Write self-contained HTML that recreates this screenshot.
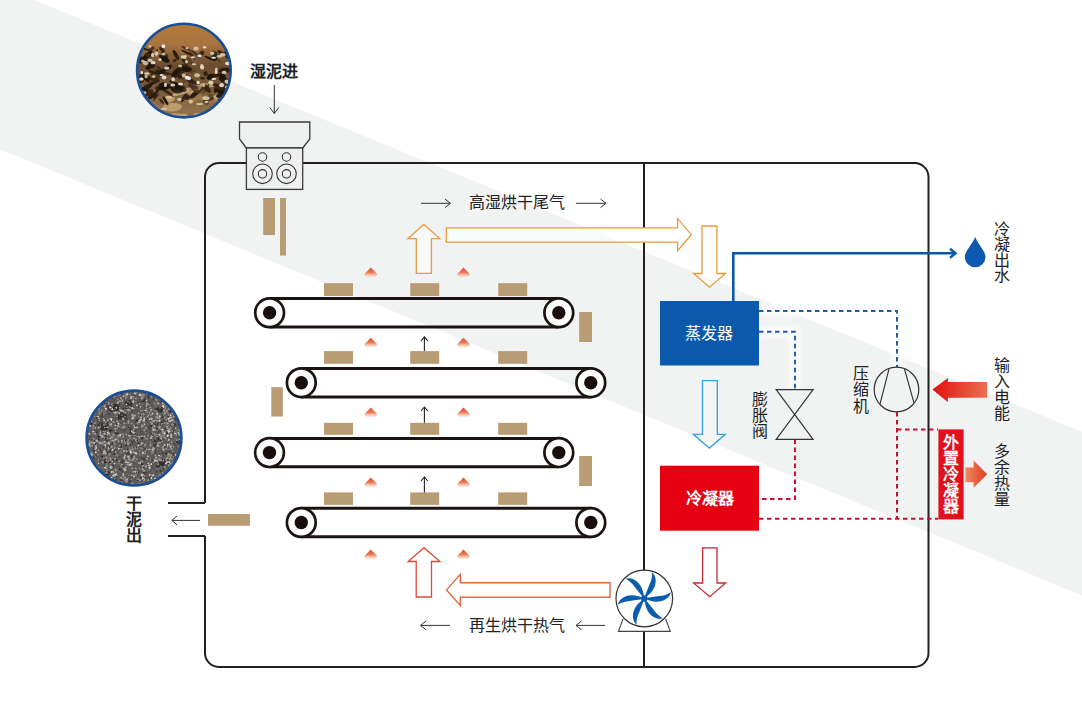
<!DOCTYPE html>
<html lang="zh-CN"><head><meta charset="utf-8">
<style>
html,body{margin:0;padding:0;background:#fff;}
body{width:1082px;height:701px;overflow:hidden;position:relative;font-family:"Liberation Sans",sans-serif;}
svg{position:absolute;left:0;top:0;}
text{font-family:"Liberation Sans",sans-serif;}
</style></head><body>
<svg width="1082" height="701" viewBox="0 0 1082 701">
<defs>
  <linearGradient id="wetg" x1="0" y1="0" x2="0" y2="1">
    <stop offset="0" stop-color="#b47a3c"/>
    <stop offset="0.22" stop-color="#a87442"/>
    <stop offset="0.45" stop-color="#6a4c30"/>
    <stop offset="0.7" stop-color="#7a5c3a"/>
    <stop offset="1" stop-color="#957550"/>
  </linearGradient>
  <filter id="blur1" x="-10%" y="-10%" width="120%" height="120%"><feGaussianBlur stdDeviation="0.7"/></filter>
  <filter id="halo" x="-20%" y="-20%" width="140%" height="140%"><feGaussianBlur stdDeviation="2"/></filter>
  <clipPath id="wetclip"><circle cx="183.9" cy="70.6" r="46.6"/></clipPath>
  <filter id="blur2" x="-10%" y="-10%" width="120%" height="120%"><feGaussianBlur stdDeviation="0.35"/></filter>
  <clipPath id="dryclip"><circle cx="134" cy="438" r="47.2"/></clipPath>
  <linearGradient id="flame" x1="0" y1="0" x2="0" y2="1">
    <stop offset="0" stop-color="#e24a2a"/>
    <stop offset="0.5" stop-color="#ec7a54"/>
    <stop offset="1" stop-color="#fbd9c6" stop-opacity="0.3"/>
  </linearGradient>
  <linearGradient id="pwr" x1="0" y1="0" x2="1" y2="0">
    <stop offset="0" stop-color="#e01010"/>
    <stop offset="1" stop-color="#ec7050"/>
  </linearGradient>
  <linearGradient id="heat" x1="0" y1="0" x2="1" y2="0">
    <stop offset="0" stop-color="#ec8a60"/>
    <stop offset="1" stop-color="#e03a20"/>
  </linearGradient>
  <g id="flm"><path d="M0 1.5 L6.5 8.2 L4.5 11.5 L-4.5 11.5 L-6.5 8.2 Z" fill="url(#flame)" filter="url(#soft)"/></g>
  <filter id="soft" x="-50%" y="-50%" width="200%" height="200%"><feGaussianBlur stdDeviation="0.55"/></filter>
  <g id="blade"><path d="M0 0 C 5.5 -4, 11.8 -10, 11.4 -18.5 C 11.1 -22, 9.6 -24.5, 7.8 -26.2 C 8 -22, 7.2 -18, 5.2 -14 C 3.6 -10, 1.8 -6, 0 0 Z" fill="#0b5cb0"/></g>
</defs>

<!-- background band -->
<polygon points="0,0 34,0 1082,431.8 1082,595.5 0,149.3" fill="#f1f2f2"/>
<g fill="none" stroke="#fff" stroke-width="11" opacity="0.75" filter="url(#halo)">
<path d="M759 311 L897 311 L897 367"/>
<path d="M759 331.8 L795 331.8 L795 389.7"/>
</g>


<!-- wet mud photo -->
<g clip-path="url(#wetclip)"><g filter="url(#blur1)">
<circle cx="183.9" cy="70.6" r="46.6" fill="url(#wetg)"/>
<ellipse cx="152.7" cy="107.5" rx="9.4" ry="3.2" fill="#c8a878" opacity="0.8" transform="rotate(20 152.7 107.5)"/>
<ellipse cx="181.5" cy="117.6" rx="6.3" ry="3.3" fill="#b8946a" opacity="0.8" transform="rotate(-19 181.5 117.6)"/>
<ellipse cx="224.2" cy="97.8" rx="6.0" ry="3.9" fill="#c8a878" opacity="0.8" transform="rotate(8 224.2 97.8)"/>
<ellipse cx="178.0" cy="118.8" rx="10.4" ry="3.0" fill="#d0b48a" opacity="0.8" transform="rotate(-19 178.0 118.8)"/>
<ellipse cx="168.0" cy="100.4" rx="5.8" ry="4.4" fill="#a07a50" opacity="0.8" transform="rotate(-19 168.0 100.4)"/>
<ellipse cx="206.4" cy="85.3" rx="10.7" ry="2.0" fill="#c8a878" opacity="0.8" transform="rotate(2 206.4 85.3)"/>
<ellipse cx="169.3" cy="99.9" rx="6.3" ry="2.1" fill="#c8a878" opacity="0.8" transform="rotate(-17 169.3 99.9)"/>
<ellipse cx="155.7" cy="106.9" rx="10.6" ry="3.6" fill="#9a7248" opacity="0.8" transform="rotate(20 155.7 106.9)"/>
<ellipse cx="143.9" cy="102.7" rx="8.9" ry="3.0" fill="#a07a50" opacity="0.8" transform="rotate(17 143.9 102.7)"/>
<ellipse cx="220.0" cy="97.2" rx="7.6" ry="3.1" fill="#d0b48a" opacity="0.8" transform="rotate(-7 220.0 97.2)"/>
<ellipse cx="182.5" cy="91.8" rx="10.8" ry="2.4" fill="#d0b48a" opacity="0.8" transform="rotate(-20 182.5 91.8)"/>
<ellipse cx="143.8" cy="104.2" rx="8.7" ry="3.4" fill="#a07a50" opacity="0.8" transform="rotate(2 143.8 104.2)"/>
<ellipse cx="195.3" cy="88.7" rx="6.2" ry="2.9" fill="#a07a50" opacity="0.8" transform="rotate(-6 195.3 88.7)"/>
<ellipse cx="193.0" cy="93.3" rx="5.7" ry="2.2" fill="#c8a878" opacity="0.8" transform="rotate(11 193.0 93.3)"/>
<ellipse cx="172.2" cy="107.3" rx="9.7" ry="4.2" fill="#c8a878" opacity="0.8" transform="rotate(-4 172.2 107.3)"/>
<ellipse cx="229.5" cy="117.6" rx="9.1" ry="4.2" fill="#d0b48a" opacity="0.8" transform="rotate(0 229.5 117.6)"/>
<ellipse cx="199.5" cy="116.6" rx="6.7" ry="3.4" fill="#d0b48a" opacity="0.8" transform="rotate(12 199.5 116.6)"/>
<ellipse cx="209.4" cy="99.9" rx="10.9" ry="2.1" fill="#a07a50" opacity="0.8" transform="rotate(6 209.4 99.9)"/>
<ellipse cx="140.5" cy="91.2" rx="7.8" ry="4.2" fill="#c8a878" opacity="0.8" transform="rotate(19 140.5 91.2)"/>
<ellipse cx="206.8" cy="99.7" rx="6.8" ry="4.4" fill="#9a7248" opacity="0.8" transform="rotate(16 206.8 99.7)"/>
<ellipse cx="181.9" cy="117.3" rx="11.3" ry="2.9" fill="#c8a878" opacity="0.8" transform="rotate(15 181.9 117.3)"/>
<ellipse cx="193.3" cy="97.8" rx="9.1" ry="4.1" fill="#a07a50" opacity="0.8" transform="rotate(-14 193.3 97.8)"/>
<ellipse cx="192.1" cy="55.8" rx="4.9" ry="1.4" fill="#3a2818" transform="rotate(54 192.1 55.8)"/>
<ellipse cx="139.5" cy="81.2" rx="4.6" ry="2.1" fill="#32220f" transform="rotate(-9 139.5 81.2)"/>
<ellipse cx="201.0" cy="90.1" rx="5.2" ry="1.0" fill="#3a2818" transform="rotate(-49 201.0 90.1)"/>
<ellipse cx="146.1" cy="49.4" rx="3.8" ry="1.0" fill="#2a1c10" transform="rotate(19 146.1 49.4)"/>
<ellipse cx="149.1" cy="78.2" rx="3.3" ry="1.5" fill="#3a2818" transform="rotate(15 149.1 78.2)"/>
<ellipse cx="154.2" cy="96.0" rx="2.8" ry="1.9" fill="#2a1c10" transform="rotate(12 154.2 96.0)"/>
<ellipse cx="184.4" cy="89.8" rx="2.2" ry="2.2" fill="#5a4028" transform="rotate(-4 184.4 89.8)"/>
<ellipse cx="143.2" cy="90.8" rx="2.7" ry="1.9" fill="#4a3420" transform="rotate(56 143.2 90.8)"/>
<ellipse cx="193.7" cy="89.8" rx="3.0" ry="1.0" fill="#4a3420" transform="rotate(38 193.7 89.8)"/>
<ellipse cx="212.1" cy="75.4" rx="4.3" ry="1.6" fill="#2a1c10" transform="rotate(1 212.1 75.4)"/>
<ellipse cx="205.8" cy="102.2" rx="3.2" ry="1.8" fill="#32220f" transform="rotate(31 205.8 102.2)"/>
<ellipse cx="155.0" cy="82.5" rx="3.3" ry="1.1" fill="#2a1c10" transform="rotate(-22 155.0 82.5)"/>
<ellipse cx="229.9" cy="54.0" rx="2.3" ry="0.9" fill="#5a4028" transform="rotate(1 229.9 54.0)"/>
<ellipse cx="225.6" cy="86.1" rx="4.8" ry="1.5" fill="#32220f" transform="rotate(-13 225.6 86.1)"/>
<ellipse cx="174.7" cy="60.6" rx="2.2" ry="1.5" fill="#3a2818" transform="rotate(-27 174.7 60.6)"/>
<ellipse cx="192.2" cy="70.7" rx="3.7" ry="2.0" fill="#5a4028" transform="rotate(-14 192.2 70.7)"/>
<ellipse cx="182.7" cy="83.4" rx="5.9" ry="0.9" fill="#5a4028" transform="rotate(-39 182.7 83.4)"/>
<ellipse cx="172.1" cy="81.9" rx="2.9" ry="1.5" fill="#32220f" transform="rotate(20 172.1 81.9)"/>
<ellipse cx="217.4" cy="87.1" rx="4.7" ry="1.2" fill="#5a4028" transform="rotate(-14 217.4 87.1)"/>
<ellipse cx="194.6" cy="94.2" rx="5.9" ry="2.3" fill="#2a1c10" transform="rotate(-41 194.6 94.2)"/>
<ellipse cx="156.1" cy="97.0" rx="4.9" ry="0.9" fill="#3a2818" transform="rotate(-50 156.1 97.0)"/>
<ellipse cx="165.5" cy="100.8" rx="5.0" ry="1.5" fill="#2a1c10" transform="rotate(59 165.5 100.8)"/>
<ellipse cx="152.8" cy="72.3" rx="4.7" ry="1.4" fill="#32220f" transform="rotate(22 152.8 72.3)"/>
<ellipse cx="161.6" cy="101.3" rx="3.3" ry="1.2" fill="#3a2818" transform="rotate(48 161.6 101.3)"/>
<ellipse cx="184.6" cy="61.3" rx="4.8" ry="1.9" fill="#3a2818" transform="rotate(53 184.6 61.3)"/>
<ellipse cx="180.8" cy="72.5" rx="4.5" ry="1.2" fill="#3a2818" transform="rotate(20 180.8 72.5)"/>
<ellipse cx="195.2" cy="53.5" rx="5.9" ry="1.1" fill="#4a3420" transform="rotate(37 195.2 53.5)"/>
<ellipse cx="224.4" cy="87.5" rx="2.1" ry="1.6" fill="#2a1c10" transform="rotate(-12 224.4 87.5)"/>
<ellipse cx="178.4" cy="73.2" rx="6.0" ry="2.2" fill="#3a2818" transform="rotate(-49 178.4 73.2)"/>
<ellipse cx="166.1" cy="73.4" rx="5.6" ry="1.4" fill="#3a2818" transform="rotate(8 166.1 73.4)"/>
<ellipse cx="222.3" cy="72.2" rx="5.4" ry="1.3" fill="#5a4028" transform="rotate(-12 222.3 72.2)"/>
<ellipse cx="188.7" cy="60.6" rx="5.2" ry="2.1" fill="#5a4028" transform="rotate(46 188.7 60.6)"/>
<ellipse cx="138.9" cy="80.6" rx="2.3" ry="2.1" fill="#3a2818" transform="rotate(-42 138.9 80.6)"/>
<ellipse cx="183.7" cy="77.5" rx="4.1" ry="1.5" fill="#4a3420" transform="rotate(-42 183.7 77.5)"/>
<ellipse cx="151.6" cy="64.1" rx="4.6" ry="0.8" fill="#2a1c10" transform="rotate(20 151.6 64.1)"/>
<ellipse cx="154.7" cy="53.5" rx="5.3" ry="1.3" fill="#4a3420" transform="rotate(-53 154.7 53.5)"/>
<ellipse cx="140.8" cy="75.7" rx="4.7" ry="1.8" fill="#3a2818" transform="rotate(-56 140.8 75.7)"/>
<ellipse cx="159.0" cy="68.1" rx="3.0" ry="1.1" fill="#3a2818" transform="rotate(27 159.0 68.1)"/>
<ellipse cx="186.2" cy="52.4" rx="5.3" ry="1.1" fill="#2a1c10" transform="rotate(27 186.2 52.4)"/>
<ellipse cx="193.8" cy="83.4" rx="4.6" ry="0.8" fill="#4a3420" transform="rotate(-1 193.8 83.4)"/>
<ellipse cx="152.4" cy="95.7" rx="5.2" ry="2.2" fill="#2a1c10" transform="rotate(-34 152.4 95.7)"/>
<ellipse cx="209.8" cy="98.6" rx="4.1" ry="2.2" fill="#4a3420" transform="rotate(-13 209.8 98.6)"/>
<ellipse cx="225.1" cy="100.5" rx="5.2" ry="0.8" fill="#4a3420" transform="rotate(-39 225.1 100.5)"/>
<ellipse cx="162.0" cy="49.4" rx="3.5" ry="1.9" fill="#3a2818" transform="rotate(52 162.0 49.4)"/>
<ellipse cx="187.3" cy="97.4" rx="2.8" ry="2.3" fill="#32220f" transform="rotate(-26 187.3 97.4)"/>
<ellipse cx="179.2" cy="91.0" rx="5.8" ry="2.2" fill="#3a2818" transform="rotate(-11 179.2 91.0)"/>
<ellipse cx="153.9" cy="78.2" rx="5.3" ry="1.3" fill="#3a2818" transform="rotate(59 153.9 78.2)"/>
<ellipse cx="222.3" cy="101.5" rx="5.0" ry="2.3" fill="#3a2818" transform="rotate(29 222.3 101.5)"/>
<ellipse cx="157.1" cy="77.8" rx="3.5" ry="2.3" fill="#4a3420" transform="rotate(-45 157.1 77.8)"/>
<ellipse cx="159.7" cy="71.8" rx="4.6" ry="2.0" fill="#3a2818" transform="rotate(18 159.7 71.8)"/>
<ellipse cx="160.9" cy="72.1" rx="3.5" ry="1.5" fill="#4a3420" transform="rotate(-55 160.9 72.1)"/>
<ellipse cx="217.3" cy="59.5" rx="5.2" ry="1.3" fill="#5a4028" transform="rotate(36 217.3 59.5)"/>
<ellipse cx="205.9" cy="88.9" rx="6.0" ry="1.4" fill="#5a4028" transform="rotate(-56 205.9 88.9)"/>
<ellipse cx="209.8" cy="96.5" rx="3.2" ry="2.0" fill="#5a4028" transform="rotate(-36 209.8 96.5)"/>
<ellipse cx="158.5" cy="89.1" rx="5.2" ry="1.5" fill="#2a1c10" transform="rotate(-57 158.5 89.1)"/>
<ellipse cx="222.7" cy="55.4" rx="3.3" ry="1.3" fill="#32220f" transform="rotate(15 222.7 55.4)"/>
<ellipse cx="193.1" cy="86.8" rx="5.5" ry="1.9" fill="#4a3420" transform="rotate(19 193.1 86.8)"/>
<ellipse cx="205.7" cy="73.7" rx="2.5" ry="2.1" fill="#32220f" transform="rotate(42 205.7 73.7)"/>
<ellipse cx="220.3" cy="52.3" rx="3.2" ry="1.8" fill="#3a2818" transform="rotate(30 220.3 52.3)"/>
<ellipse cx="224.5" cy="53.8" rx="4.5" ry="1.8" fill="#32220f" transform="rotate(-35 224.5 53.8)"/>
<ellipse cx="183.7" cy="87.9" rx="2.9" ry="1.8" fill="#4a3420" transform="rotate(51 183.7 87.9)"/>
<ellipse cx="186.0" cy="48.5" rx="5.4" ry="1.2" fill="#4a3420" transform="rotate(24 186.0 48.5)"/>
<ellipse cx="175.9" cy="54.9" rx="5.5" ry="1.8" fill="#2a1c10" transform="rotate(60 175.9 54.9)"/>
<ellipse cx="159.0" cy="87.4" rx="4.0" ry="1.6" fill="#32220f" transform="rotate(-15 159.0 87.4)"/>
<ellipse cx="196.6" cy="83.6" rx="3.5" ry="1.3" fill="#5a4028" transform="rotate(16 196.6 83.6)"/>
<ellipse cx="179.9" cy="76.8" rx="2.9" ry="2.0" fill="#2a1c10" transform="rotate(42 179.9 76.8)"/>
<ellipse cx="221.0" cy="95.2" rx="5.1" ry="2.2" fill="#2a1c10" transform="rotate(-19 221.0 95.2)"/>
<ellipse cx="151.7" cy="48.8" rx="3.1" ry="1.8" fill="#4a3420" transform="rotate(-34 151.7 48.8)"/>
<ellipse cx="141.8" cy="58.5" rx="2.6" ry="1.7" fill="#3a2818" transform="rotate(-33 141.8 58.5)"/>
<ellipse cx="147.7" cy="77.9" rx="2.5" ry="1.4" fill="#2a1c10" transform="rotate(-36 147.7 77.9)"/>
<ellipse cx="202.5" cy="78.2" rx="2.3" ry="1.2" fill="#32220f" transform="rotate(8 202.5 78.2)"/>
<ellipse cx="160.1" cy="72.2" rx="5.2" ry="2.2" fill="#2a1c10" transform="rotate(-12 160.1 72.2)"/>
<ellipse cx="226.7" cy="93.2" rx="4.7" ry="2.1" fill="#5a4028" transform="rotate(-56 226.7 93.2)"/>
<ellipse cx="183.8" cy="97.9" rx="5.1" ry="1.7" fill="#3a2818" transform="rotate(-55 183.8 97.9)"/>
<ellipse cx="197.0" cy="91.6" rx="3.0" ry="1.5" fill="#4a3420" transform="rotate(4 197.0 91.6)"/>
<ellipse cx="152.6" cy="67.1" rx="4.7" ry="1.8" fill="#5a4028" transform="rotate(50 152.6 67.1)"/>
<ellipse cx="164.6" cy="54.5" rx="4.3" ry="1.5" fill="#3a2818" transform="rotate(30 164.6 54.5)"/>
<ellipse cx="151.2" cy="65.3" rx="2.4" ry="1.8" fill="#5a4028" transform="rotate(49 151.2 65.3)"/>
<ellipse cx="141.9" cy="89.8" rx="5.3" ry="1.6" fill="#2a1c10" transform="rotate(15 141.9 89.8)"/>
<ellipse cx="181.4" cy="79.2" rx="3.5" ry="1.1" fill="#5a4028" transform="rotate(15 181.4 79.2)"/>
<ellipse cx="190.5" cy="79.3" rx="6.2" ry="1.7" fill="#2a1c10" transform="rotate(48 190.5 79.3)"/>
<ellipse cx="221.7" cy="91.7" rx="3.9" ry="2.4" fill="#24180c" transform="rotate(-5 221.7 91.7)"/>
<ellipse cx="225.2" cy="79.4" rx="3.9" ry="1.8" fill="#24180c" transform="rotate(40 225.2 79.4)"/>
<ellipse cx="206.6" cy="88.4" rx="5.5" ry="2.7" fill="#3a2818" transform="rotate(43 206.6 88.4)"/>
<ellipse cx="189.1" cy="81.3" rx="3.0" ry="1.3" fill="#3a2818" transform="rotate(50 189.1 81.3)"/>
<ellipse cx="229.6" cy="56.6" rx="4.1" ry="2.4" fill="#2a1c10" transform="rotate(1 229.6 56.6)"/>
<ellipse cx="167.1" cy="68.2" rx="5.5" ry="2.2" fill="#24180c" transform="rotate(-31 167.1 68.2)"/>
<ellipse cx="147.6" cy="55.3" rx="6.4" ry="2.5" fill="#1e140a" transform="rotate(-44 147.6 55.3)"/>
<ellipse cx="146.0" cy="86.3" rx="2.5" ry="1.9" fill="#3a2818" transform="rotate(-30 146.0 86.3)"/>
<ellipse cx="155.3" cy="80.1" rx="4.6" ry="2.1" fill="#3a2818" transform="rotate(9 155.3 80.1)"/>
<ellipse cx="179.6" cy="88.4" rx="4.7" ry="1.2" fill="#24180c" transform="rotate(-12 179.6 88.4)"/>
<ellipse cx="210.0" cy="58.4" rx="6.4" ry="1.2" fill="#24180c" transform="rotate(22 210.0 58.4)"/>
<ellipse cx="218.6" cy="87.7" rx="6.4" ry="2.8" fill="#24180c" transform="rotate(-47 218.6 87.7)"/>
<ellipse cx="145.5" cy="78.1" rx="5.8" ry="2.0" fill="#24180c" transform="rotate(45 145.5 78.1)"/>
<ellipse cx="175.2" cy="72.9" rx="5.3" ry="2.6" fill="#24180c" transform="rotate(-48 175.2 72.9)"/>
<ellipse cx="174.3" cy="86.1" rx="4.0" ry="1.4" fill="#2a1c10" transform="rotate(41 174.3 86.1)"/>
<ellipse cx="167.1" cy="92.1" rx="6.6" ry="1.5" fill="#3a2818" transform="rotate(33 167.1 92.1)"/>
<ellipse cx="177.7" cy="86.4" rx="6.7" ry="2.8" fill="#1e140a" transform="rotate(35 177.7 86.4)"/>
<ellipse cx="195.6" cy="82.8" rx="3.5" ry="1.4" fill="#3a2818" transform="rotate(35 195.6 82.8)"/>
<ellipse cx="144.6" cy="58.7" rx="6.4" ry="1.6" fill="#1e140a" transform="rotate(-44 144.6 58.7)"/>
<ellipse cx="200.7" cy="54.4" rx="4.5" ry="2.2" fill="#3a2818" transform="rotate(-49 200.7 54.4)"/>
<ellipse cx="224.8" cy="70.5" rx="6.6" ry="2.7" fill="#2a1c10" transform="rotate(-4 224.8 70.5)"/>
<ellipse cx="210.0" cy="77.5" rx="3.4" ry="2.2" fill="#1e140a" transform="rotate(-17 210.0 77.5)"/>
<ellipse cx="145.6" cy="89.7" rx="4.7" ry="1.8" fill="#1e140a" transform="rotate(25 145.6 89.7)"/>
<ellipse cx="215.2" cy="54.7" rx="2.5" ry="2.8" fill="#3a2818" transform="rotate(-17 215.2 54.7)"/>
<ellipse cx="149.2" cy="67.3" rx="4.0" ry="2.1" fill="#24180c" transform="rotate(-23 149.2 67.3)"/>
<ellipse cx="218.2" cy="75.1" rx="6.3" ry="1.7" fill="#2a1c10" transform="rotate(-9 218.2 75.1)"/>
<ellipse cx="149.4" cy="86.0" rx="5.0" ry="2.0" fill="#2a1c10" transform="rotate(-49 149.4 86.0)"/>
<ellipse cx="139.5" cy="60.0" rx="3.3" ry="2.5" fill="#2a1c10" transform="rotate(-19 139.5 60.0)"/>
<ellipse cx="215.0" cy="54.3" rx="4.5" ry="1.9" fill="#3a2818" transform="rotate(46 215.0 54.3)"/>
<ellipse cx="162.4" cy="84.5" rx="3.8" ry="1.9" fill="#1e140a" transform="rotate(-15 162.4 84.5)"/>
<ellipse cx="148.2" cy="92.8" rx="5.4" ry="2.9" fill="#3a2818" transform="rotate(-26 148.2 92.8)"/>
<ellipse cx="172.7" cy="88.1" rx="5.5" ry="1.4" fill="#2a1c10" transform="rotate(29 172.7 88.1)"/>
<ellipse cx="173.3" cy="89.1" rx="2.8" ry="2.3" fill="#2a1c10" transform="rotate(28 173.3 89.1)"/>
<ellipse cx="218.7" cy="86.7" rx="6.4" ry="2.5" fill="#3a2818" transform="rotate(23 218.7 86.7)"/>
<ellipse cx="221.9" cy="79.1" rx="3.6" ry="2.4" fill="#24180c" transform="rotate(30 221.9 79.1)"/>
<ellipse cx="178.7" cy="70.0" rx="2.9" ry="2.6" fill="#2a1c10" transform="rotate(-22 178.7 70.0)"/>
<ellipse cx="214.2" cy="58.1" rx="3.3" ry="1.8" fill="#2a1c10" transform="rotate(33 214.2 58.1)"/>
<ellipse cx="149.6" cy="63.5" rx="6.1" ry="2.9" fill="#24180c" transform="rotate(40 149.6 63.5)"/>
<ellipse cx="222.8" cy="76.8" rx="2.9" ry="2.8" fill="#1e140a" transform="rotate(40 222.8 76.8)"/>
<ellipse cx="186.8" cy="69.3" rx="5.1" ry="2.6" fill="#24180c" transform="rotate(-1 186.8 69.3)"/>
<ellipse cx="184.5" cy="66.4" rx="4.9" ry="2.2" fill="#3a2818" transform="rotate(10 184.5 66.4)"/>
<ellipse cx="223.0" cy="81.1" rx="4.4" ry="1.2" fill="#2a1c10" transform="rotate(36 223.0 81.1)"/>
<ellipse cx="165.6" cy="87.1" rx="6.7" ry="2.8" fill="#2a1c10" transform="rotate(-19 165.6 87.1)"/>
<ellipse cx="141.0" cy="92.5" rx="3.6" ry="2.0" fill="#3a2818" transform="rotate(-15 141.0 92.5)"/>
<ellipse cx="148.4" cy="55.2" rx="3.9" ry="2.2" fill="#3a2818" transform="rotate(13 148.4 55.2)"/>
<ellipse cx="229.2" cy="83.9" rx="6.9" ry="2.3" fill="#3a2818" transform="rotate(-15 229.2 83.9)"/>
<ellipse cx="164.3" cy="58.6" rx="6.0" ry="2.8" fill="#1e140a" transform="rotate(35 164.3 58.6)"/>
<ellipse cx="164.1" cy="87.0" rx="4.8" ry="1.8" fill="#1e140a" transform="rotate(-7 164.1 87.0)"/>
<ellipse cx="184.9" cy="68.2" rx="3.6" ry="1.6" fill="#1e140a" transform="rotate(10 184.9 68.2)"/>
<ellipse cx="194.0" cy="64.3" rx="2.4" ry="1.0" fill="#e8dcc4" opacity="0.85"/>
<ellipse cx="152.5" cy="55.1" rx="1.5" ry="2.2" fill="#f6f0e2" opacity="0.85"/>
<ellipse cx="199.5" cy="55.7" rx="2.2" ry="1.5" fill="#ffffff" opacity="0.85"/>
<ellipse cx="186.6" cy="61.8" rx="1.6" ry="1.7" fill="#e8dcc4" opacity="0.85"/>
<ellipse cx="201.8" cy="66.2" rx="1.7" ry="2.1" fill="#e8dcc4" opacity="0.85"/>
<ellipse cx="164.1" cy="77.5" rx="2.3" ry="1.9" fill="#f6f0e2" opacity="0.85"/>
<ellipse cx="219.2" cy="56.3" rx="2.8" ry="1.4" fill="#dccaa6" opacity="0.85"/>
<ellipse cx="213.8" cy="78.9" rx="2.4" ry="1.0" fill="#ffffff" opacity="0.85"/>
<ellipse cx="222.7" cy="54.9" rx="2.8" ry="1.9" fill="#e8dcc4" opacity="0.85"/>
<ellipse cx="210.9" cy="82.6" rx="2.6" ry="2.0" fill="#e8dcc4" opacity="0.85"/>
<ellipse cx="183.8" cy="75.5" rx="2.0" ry="2.2" fill="#dccaa6" opacity="0.85"/>
<ellipse cx="172.8" cy="85.0" rx="2.4" ry="1.6" fill="#f6f0e2" opacity="0.85"/>
<ellipse cx="150.1" cy="46.2" rx="1.3" ry="1.5" fill="#dccaa6" opacity="0.85"/>
<ellipse cx="141.8" cy="72.7" rx="1.4" ry="1.6" fill="#ffffff" opacity="0.85"/>
<ellipse cx="198.1" cy="82.6" rx="1.7" ry="1.9" fill="#f6f0e2" opacity="0.85"/>
<ellipse cx="163.3" cy="46.2" rx="1.9" ry="2.0" fill="#ffffff" opacity="0.85"/>
<ellipse cx="180.5" cy="84.1" rx="2.6" ry="1.3" fill="#ffffff" opacity="0.85"/>
<ellipse cx="149.9" cy="60.5" rx="2.7" ry="1.4" fill="#e8dcc4" opacity="0.85"/>
<ellipse cx="213.6" cy="57.7" rx="2.5" ry="1.0" fill="#ffffff" opacity="0.85"/>
<ellipse cx="141.3" cy="79.1" rx="2.3" ry="1.6" fill="#f6f0e2" opacity="0.85"/>
<ellipse cx="212.2" cy="53.3" rx="2.1" ry="1.7" fill="#e8dcc4" opacity="0.85"/>
<ellipse cx="216.2" cy="72.1" rx="1.5" ry="1.9" fill="#f6f0e2" opacity="0.85"/>
<ellipse cx="153.5" cy="76.7" rx="1.9" ry="1.4" fill="#dccaa6" opacity="0.85"/>
<ellipse cx="173.1" cy="79.4" rx="1.7" ry="2.1" fill="#f6f0e2" opacity="0.85"/>
<ellipse cx="160.0" cy="59.5" rx="1.7" ry="1.5" fill="#e8dcc4" opacity="0.85"/>
<ellipse cx="230.1" cy="49.5" rx="2.7" ry="2.1" fill="#dccaa6" opacity="0.85"/>
<ellipse cx="203.6" cy="85.2" rx="1.5" ry="1.9" fill="#dccaa6" opacity="0.85"/>
<ellipse cx="228.8" cy="83.0" rx="2.7" ry="1.1" fill="#dccaa6" opacity="0.85"/>
<ellipse cx="221.6" cy="85.2" rx="2.5" ry="2.1" fill="#f6f0e2" opacity="0.85"/>
<ellipse cx="204.6" cy="47.3" rx="1.7" ry="1.2" fill="#f6f0e2" opacity="0.85"/>
<ellipse cx="196.0" cy="48.6" rx="2.7" ry="2.2" fill="#dccaa6" opacity="0.85"/>
<ellipse cx="145.7" cy="63.1" rx="2.8" ry="2.0" fill="#dccaa6" opacity="0.85"/>
<ellipse cx="182.8" cy="57.1" rx="2.1" ry="1.8" fill="#e8dcc4" opacity="0.85"/>
<ellipse cx="165.4" cy="84.9" rx="1.4" ry="2.1" fill="#ffffff" opacity="0.85"/>
<ellipse cx="189.3" cy="78.3" rx="1.8" ry="1.9" fill="#ffffff" opacity="0.85"/>
<ellipse cx="187.0" cy="48.1" rx="1.3" ry="1.2" fill="#e8dcc4" opacity="0.85"/>
<ellipse cx="180.2" cy="65.9" rx="2.0" ry="1.3" fill="#dccaa6" opacity="0.85"/>
<ellipse cx="163.4" cy="54.2" rx="2.1" ry="1.4" fill="#dccaa6" opacity="0.85"/>
<ellipse cx="187.1" cy="77.6" rx="2.2" ry="2.1" fill="#ffffff" opacity="0.85"/>
<ellipse cx="156.3" cy="53.5" rx="2.1" ry="2.2" fill="#e8dcc4" opacity="0.85"/>
<ellipse cx="146.1" cy="76.4" rx="1.6" ry="1.9" fill="#dccaa6" opacity="0.85"/>
<ellipse cx="192.9" cy="57.4" rx="2.0" ry="1.1" fill="#f6f0e2" opacity="0.85"/>
<ellipse cx="216.3" cy="69.7" rx="1.3" ry="2.2" fill="#e8dcc4" opacity="0.85"/>
<ellipse cx="202.2" cy="67.4" rx="2.1" ry="2.2" fill="#e8dcc4" opacity="0.85"/>
<ellipse cx="197.0" cy="75.3" rx="2.8" ry="2.0" fill="#dccaa6" opacity="0.85"/>
<ellipse cx="161.6" cy="75.1" rx="1.9" ry="1.0" fill="#ffffff" opacity="0.85"/>
<ellipse cx="227.6" cy="63.5" rx="2.6" ry="1.8" fill="#ffffff" opacity="0.85"/>
<ellipse cx="224.1" cy="72.4" rx="2.6" ry="1.6" fill="#e8dcc4" opacity="0.85"/>
<ellipse cx="142.9" cy="61.2" rx="1.8" ry="1.4" fill="#dccaa6" opacity="0.85"/>
<ellipse cx="185.2" cy="57.1" rx="1.5" ry="2.1" fill="#e8dcc4" opacity="0.85"/>
<ellipse cx="146.9" cy="73.5" rx="2.7" ry="1.2" fill="#e8dcc4" opacity="0.85"/>
<ellipse cx="166.7" cy="68.1" rx="2.7" ry="1.7" fill="#f6f0e2" opacity="0.85"/>
<ellipse cx="226.5" cy="81.6" rx="2.0" ry="2.0" fill="#e8dcc4" opacity="0.85"/>
<ellipse cx="153.0" cy="62.7" rx="2.5" ry="1.6" fill="#f6f0e2" opacity="0.85"/>
<ellipse cx="228.8" cy="52.1" rx="2.7" ry="1.5" fill="#dccaa6" opacity="0.85"/>
<ellipse cx="152.6" cy="108.5" rx="2.5" ry="1.1" fill="#e6d8bc" opacity="0.8"/>
<ellipse cx="199.7" cy="104.0" rx="3.6" ry="1.1" fill="#e6d8bc" opacity="0.8"/>
<ellipse cx="228.7" cy="87.1" rx="3.9" ry="1.8" fill="#e6d8bc" opacity="0.8"/>
<ellipse cx="168.7" cy="97.2" rx="3.3" ry="1.3" fill="#e6d8bc" opacity="0.8"/>
<ellipse cx="213.0" cy="111.6" rx="1.6" ry="1.8" fill="#e6d8bc" opacity="0.8"/>
<ellipse cx="222.5" cy="102.1" rx="1.9" ry="1.5" fill="#e6d8bc" opacity="0.8"/>
<ellipse cx="145.6" cy="109.6" rx="2.6" ry="1.4" fill="#e6d8bc" opacity="0.8"/>
<ellipse cx="179.4" cy="99.4" rx="2.2" ry="1.6" fill="#e6d8bc" opacity="0.8"/>
<ellipse cx="142.6" cy="92.8" rx="3.8" ry="1.8" fill="#e6d8bc" opacity="0.8"/>
<ellipse cx="206.3" cy="102.1" rx="2.1" ry="1.3" fill="#e6d8bc" opacity="0.8"/>
<ellipse cx="190.8" cy="101.7" rx="2.1" ry="1.9" fill="#e6d8bc" opacity="0.8"/>
<ellipse cx="206.0" cy="98.2" rx="3.7" ry="1.9" fill="#e6d8bc" opacity="0.8"/>
<ellipse cx="219.1" cy="108.6" rx="2.3" ry="1.8" fill="#e6d8bc" opacity="0.8"/>
<ellipse cx="163.8" cy="109.1" rx="3.2" ry="1.0" fill="#e6d8bc" opacity="0.8"/>
</g></g>
<circle cx="183.9" cy="70.6" r="46.8" fill="none" stroke="#1a4f98" stroke-width="2.6"/>

<!-- dry mud photo -->
<g clip-path="url(#dryclip)"><g filter="url(#blur2)">
<circle cx="134.0" cy="438.0" r="47.6" fill="#5e5a5a"/>
<ellipse cx="114.0" cy="408.0" rx="6" ry="4.2" fill="#2a2626" opacity="0.8"/>
<ellipse cx="122.0" cy="416.0" rx="5" ry="3.5" fill="#2a2626" opacity="0.8"/>
<ellipse cx="104.0" cy="428.0" rx="4" ry="2.8" fill="#2a2626" opacity="0.8"/>
<ellipse cx="159.0" cy="410.0" rx="4" ry="2.8" fill="#2a2626" opacity="0.8"/>
<ellipse cx="164.0" cy="463.0" rx="5" ry="3.5" fill="#2a2626" opacity="0.8"/>
<ellipse cx="129.0" cy="403.0" rx="4" ry="2.8" fill="#2a2626" opacity="0.8"/>
<polygon points="147.2,461.4 144.6,462.5 145.3,459.6" fill="#767270"/>
<polygon points="109.7,441.1 111.4,442.7 108.6,442.8" fill="#8e8a88"/>
<polygon points="145.4,433.8 144.2,432.6 146.0,432.1" fill="#8e8a88"/>
<polygon points="153.0,409.6 150.4,411.2 150.0,408.9" fill="#bdb9b5"/>
<polygon points="115.7,448.1 114.5,448.2 115.0,447.3" fill="#d4d0cc"/>
<polygon points="111.5,478.1 111.5,481.4 109.6,479.7" fill="#3a3636"/>
<polygon points="104.2,463.8 104.2,461.2 107.1,462.5" fill="#2a2626"/>
<polygon points="118.5,449.8 117.4,447.6 120.7,447.9" fill="#d4d0cc"/>
<polygon points="156.2,420.6 154.3,420.6 155.0,418.8" fill="#8e8a88"/>
<polygon points="148.9,402.9 149.9,405.6 147.0,404.7" fill="#8e8a88"/>
<polygon points="126.3,405.6 126.4,407.7 124.4,406.4" fill="#8e8a88"/>
<polygon points="131.4,460.0 133.4,458.7 133.5,461.0" fill="#d4d0cc"/>
<polygon points="169.3,406.4 170.1,408.5 167.7,408.0" fill="#767270"/>
<polygon points="159.4,423.4 159.5,426.6 157.4,425.0" fill="#bdb9b5"/>
<polygon points="166.8,433.9 169.2,435.6 166.8,437.0" fill="#d4d0cc"/>
<polygon points="157.5,468.2 157.0,470.3 155.6,469.0" fill="#a9a5a2"/>
<polygon points="132.7,457.6 130.2,456.2 132.7,454.7" fill="#3a3636"/>
<polygon points="146.4,458.7 147.8,458.7 147.0,459.9" fill="#a9a5a2"/>
<polygon points="177.4,436.7 179.0,435.3 179.6,437.0" fill="#3a3636"/>
<polygon points="124.5,415.6 126.2,417.1 124.4,417.8" fill="#a9a5a2"/>
<polygon points="175.8,418.9 177.0,417.5 177.9,418.9" fill="#a9a5a2"/>
<polygon points="143.2,425.3 144.0,422.4 146.3,424.3" fill="#8e8a88"/>
<polygon points="128.4,483.1 126.7,484.6 126.6,482.2" fill="#2a2626"/>
<polygon points="132.7,430.0 134.0,428.9 134.2,430.7" fill="#d4d0cc"/>
<polygon points="160.3,468.9 161.2,468.7 160.9,469.9" fill="#767270"/>
<polygon points="112.4,435.6 115.0,437.0 113.0,439.0" fill="#767270"/>
<polygon points="117.6,419.9 118.0,417.8 119.7,418.8" fill="#2a2626"/>
<polygon points="96.8,454.9 97.4,456.5 95.8,456.2" fill="#3a3636"/>
<polygon points="124.4,426.6 123.3,428.8 121.3,427.0" fill="#bdb9b5"/>
<polygon points="147.1,435.5 148.5,434.6 148.8,436.4" fill="#a9a5a2"/>
<polygon points="92.3,410.7 95.0,412.3 92.1,413.3" fill="#8e8a88"/>
<polygon points="166.3,410.1 168.3,411.6 165.5,412.2" fill="#a9a5a2"/>
<polygon points="101.3,449.1 102.5,449.6 101.4,450.4" fill="#a9a5a2"/>
<polygon points="152.4,436.5 151.7,438.2 150.8,436.3" fill="#3a3636"/>
<polygon points="138.7,412.2 138.2,411.1 139.4,411.0" fill="#bdb9b5"/>
<polygon points="102.6,457.5 104.7,457.5 103.6,459.7" fill="#8e8a88"/>
<polygon points="137.9,441.6 136.7,442.8 135.8,441.3" fill="#a9a5a2"/>
<polygon points="106.2,458.4 105.6,456.5 107.7,456.9" fill="#bdb9b5"/>
<polygon points="112.7,450.3 115.8,449.2 115.1,451.7" fill="#3a3636"/>
<polygon points="169.8,437.1 171.2,434.8 172.3,436.9" fill="#8e8a88"/>
<polygon points="149.4,398.3 147.3,397.3 149.2,395.7" fill="#2a2626"/>
<polygon points="119.7,479.9 122.1,478.5 122.6,481.0" fill="#2a2626"/>
<polygon points="101.5,408.8 102.8,409.5 101.7,410.1" fill="#bdb9b5"/>
<polygon points="131.9,463.9 130.8,464.9 130.4,463.6" fill="#bdb9b5"/>
<polygon points="123.9,394.1 126.3,393.8 125.6,396.0" fill="#767270"/>
<polygon points="152.8,452.1 150.4,452.8 151.1,450.7" fill="#8e8a88"/>
<polygon points="153.3,451.7 151.8,451.9 152.6,450.3" fill="#bdb9b5"/>
<polygon points="136.7,436.6 138.7,435.6 138.4,438.3" fill="#3a3636"/>
<polygon points="139.6,402.7 139.7,404.5 138.3,403.7" fill="#bdb9b5"/>
<polygon points="141.9,414.0 140.8,414.2 141.2,413.1" fill="#bdb9b5"/>
<polygon points="156.6,442.4 159.6,442.2 158.1,445.2" fill="#a9a5a2"/>
<polygon points="111.5,468.5 111.3,466.9 112.7,467.6" fill="#a9a5a2"/>
<polygon points="165.2,432.8 164.3,431.6 165.9,431.2" fill="#8e8a88"/>
<polygon points="154.9,398.4 156.8,399.2 155.3,400.7" fill="#a9a5a2"/>
<polygon points="108.3,446.3 109.1,447.7 107.5,447.6" fill="#8e8a88"/>
<polygon points="127.6,394.3 126.4,397.1 125.0,394.4" fill="#8e8a88"/>
<polygon points="114.0,440.9 114.7,437.7 116.4,439.8" fill="#bdb9b5"/>
<polygon points="120.4,404.2 118.9,404.9 119.4,402.9" fill="#3a3636"/>
<polygon points="117.7,454.3 118.4,456.7 115.9,455.7" fill="#8e8a88"/>
<polygon points="115.5,393.0 117.1,391.9 117.1,394.1" fill="#3a3636"/>
<polygon points="138.9,396.9 139.2,395.5 140.1,396.3" fill="#3a3636"/>
<polygon points="119.6,446.9 119.2,444.8 122.0,445.4" fill="#3a3636"/>
<polygon points="152.3,472.0 150.6,469.7 153.0,469.2" fill="#767270"/>
<polygon points="87.6,427.0 86.8,428.2 85.8,427.2" fill="#767270"/>
<polygon points="154.0,427.9 153.6,424.5 155.7,425.6" fill="#bdb9b5"/>
<polygon points="103.9,451.6 105.3,453.5 103.1,453.5" fill="#767270"/>
<polygon points="144.5,483.2 143.1,482.5 144.4,481.8" fill="#8e8a88"/>
<polygon points="161.8,422.3 160.7,422.0 161.5,420.9" fill="#2a2626"/>
<polygon points="173.2,449.0 170.7,450.2 170.6,447.5" fill="#a9a5a2"/>
<polygon points="127.9,419.2 130.0,421.7 127.5,421.9" fill="#a9a5a2"/>
<polygon points="122.1,435.5 121.2,433.2 123.6,433.5" fill="#8e8a88"/>
<polygon points="120.5,461.2 118.2,461.9 118.6,460.2" fill="#d4d0cc"/>
<polygon points="171.4,450.9 174.2,450.7 172.7,453.0" fill="#8e8a88"/>
<polygon points="109.8,453.7 108.8,454.7 108.4,453.3" fill="#bdb9b5"/>
<polygon points="129.1,403.2 129.2,402.0 130.3,402.8" fill="#a9a5a2"/>
<polygon points="127.8,434.9 129.1,435.1 128.5,436.1" fill="#bdb9b5"/>
<polygon points="150.9,449.4 148.3,450.5 148.7,448.1" fill="#bdb9b5"/>
<polygon points="161.1,432.1 159.1,430.1 162.2,429.7" fill="#3a3636"/>
<polygon points="103.2,434.1 101.9,434.6 102.3,433.3" fill="#3a3636"/>
<polygon points="130.5,434.7 129.9,435.6 129.3,434.5" fill="#3a3636"/>
<polygon points="161.0,405.6 159.2,405.4 160.2,403.5" fill="#767270"/>
<polygon points="141.4,416.5 139.6,415.8 140.9,414.2" fill="#3a3636"/>
<polygon points="144.6,466.8 143.7,465.5 145.1,465.6" fill="#767270"/>
<polygon points="141.7,416.6 139.8,417.5 139.8,415.4" fill="#3a3636"/>
<polygon points="137.4,425.9 137.7,428.4 135.5,427.6" fill="#d4d0cc"/>
<polygon points="139.7,396.0 139.8,393.2 142.1,394.5" fill="#a9a5a2"/>
<polygon points="112.2,470.7 109.9,469.3 112.2,467.9" fill="#3a3636"/>
<polygon points="141.8,443.8 144.5,443.2 143.2,445.5" fill="#3a3636"/>
<polygon points="141.5,400.4 143.5,401.2 142.2,402.7" fill="#2a2626"/>
<polygon points="92.6,432.7 94.4,434.6 91.5,435.0" fill="#767270"/>
<polygon points="157.2,441.0 158.2,437.7 160.2,439.9" fill="#2a2626"/>
<polygon points="128.8,440.7 127.0,439.9 128.6,438.9" fill="#bdb9b5"/>
<polygon points="110.6,437.0 113.1,436.4 112.1,438.4" fill="#bdb9b5"/>
<polygon points="109.2,424.5 111.9,422.7 111.8,425.5" fill="#bdb9b5"/>
<polygon points="171.2,417.9 168.1,418.7 169.0,416.1" fill="#a9a5a2"/>
<polygon points="117.0,399.8 117.7,398.9 118.6,400.0" fill="#d4d0cc"/>
<polygon points="172.4,439.1 171.0,439.1 171.7,437.9" fill="#3a3636"/>
<polygon points="121.0,396.5 121.6,398.5 119.8,398.0" fill="#a9a5a2"/>
<polygon points="114.4,443.4 111.4,444.2 111.9,441.5" fill="#3a3636"/>
<polygon points="171.2,458.4 169.7,458.8 170.2,457.4" fill="#d4d0cc"/>
<polygon points="112.5,461.7 113.4,460.3 114.6,461.7" fill="#2a2626"/>
<polygon points="128.6,411.7 129.8,413.0 128.1,413.2" fill="#8e8a88"/>
<polygon points="170.4,448.5 171.9,450.7 169.5,451.1" fill="#767270"/>
<polygon points="111.8,421.9 114.5,421.0 113.8,424.1" fill="#a9a5a2"/>
<polygon points="89.1,435.9 90.5,436.8 89.1,437.6" fill="#3a3636"/>
<polygon points="152.6,448.1 155.5,448.1 154.2,450.2" fill="#a9a5a2"/>
<polygon points="156.6,407.5 155.8,406.1 157.2,406.1" fill="#767270"/>
<polygon points="140.8,460.7 142.9,460.5 141.8,462.6" fill="#3a3636"/>
<polygon points="156.1,476.0 154.1,475.4 156.1,474.2" fill="#8e8a88"/>
<polygon points="163.0,434.4 163.8,436.6 161.6,436.4" fill="#8e8a88"/>
<polygon points="168.6,409.8 166.9,410.8 166.7,409.0" fill="#2a2626"/>
<polygon points="125.9,419.7 127.0,417.8 128.3,419.6" fill="#3a3636"/>
<polygon points="112.6,439.2 113.4,440.9 111.6,440.8" fill="#bdb9b5"/>
<polygon points="170.8,459.6 169.0,458.1 171.4,457.2" fill="#bdb9b5"/>
<polygon points="101.0,451.7 101.4,449.6 103.1,450.9" fill="#3a3636"/>
<polygon points="86.6,441.0 88.5,443.6 85.4,443.8" fill="#d4d0cc"/>
<polygon points="169.6,414.9 171.9,415.1 170.5,416.7" fill="#d4d0cc"/>
<polygon points="113.9,468.2 114.7,467.6 114.9,468.6" fill="#767270"/>
<polygon points="120.6,463.3 119.7,464.5 119.3,463.2" fill="#a9a5a2"/>
<polygon points="170.0,411.8 169.3,410.4 171.0,410.7" fill="#3a3636"/>
<polygon points="115.8,479.9 113.9,479.1 115.6,478.4" fill="#a9a5a2"/>
<polygon points="116.9,468.0 118.3,469.6 116.7,470.3" fill="#8e8a88"/>
<polygon points="165.6,439.0 163.7,438.6 164.7,436.9" fill="#767270"/>
<polygon points="115.8,393.3 118.5,393.3 117.0,395.2" fill="#3a3636"/>
<polygon points="158.1,477.3 157.9,476.0 159.0,476.4" fill="#8e8a88"/>
<polygon points="137.4,484.0 137.2,486.5 135.5,485.2" fill="#3a3636"/>
<polygon points="120.0,466.5 121.4,463.0 123.5,465.6" fill="#a9a5a2"/>
<polygon points="112.5,407.7 112.0,406.0 113.7,406.8" fill="#3a3636"/>
<polygon points="105.8,408.2 105.1,410.0 104.0,408.6" fill="#2a2626"/>
<polygon points="118.9,471.0 119.8,470.5 120.0,471.8" fill="#bdb9b5"/>
<polygon points="107.5,433.0 107.9,434.3 106.7,434.2" fill="#a9a5a2"/>
<polygon points="171.9,444.7 172.7,446.9 170.3,446.7" fill="#3a3636"/>
<polygon points="133.8,390.4 133.7,392.4 132.2,391.3" fill="#bdb9b5"/>
<polygon points="111.8,433.6 111.1,434.5 110.4,433.6" fill="#8e8a88"/>
<polygon points="175.6,439.1 177.4,439.9 176.3,441.2" fill="#bdb9b5"/>
<polygon points="115.4,412.9 114.1,411.9 115.9,411.5" fill="#e2dedb"/>
<polygon points="165.5,446.6 166.9,446.9 165.9,447.8" fill="#2a2626"/>
<polygon points="157.9,423.3 156.6,424.3 156.2,422.4" fill="#767270"/>
<polygon points="167.1,472.6 165.1,471.7 166.7,470.6" fill="#d4d0cc"/>
<polygon points="133.7,417.6 134.5,418.7 133.4,418.8" fill="#bdb9b5"/>
<polygon points="108.2,448.5 109.8,446.5 111.0,449.1" fill="#3a3636"/>
<polygon points="131.0,440.6 133.4,441.1 131.5,443.0" fill="#3a3636"/>
<polygon points="144.7,447.3 146.2,449.3 144.0,449.6" fill="#3a3636"/>
<polygon points="158.8,410.8 158.7,413.1 156.9,411.9" fill="#767270"/>
<polygon points="109.9,458.6 108.1,458.6 108.9,457.3" fill="#a9a5a2"/>
<polygon points="133.3,448.0 133.6,450.4 130.9,449.3" fill="#a9a5a2"/>
<polygon points="117.1,462.6 119.8,463.5 117.7,465.0" fill="#767270"/>
<polygon points="142.1,395.2 138.9,396.3 138.9,393.8" fill="#d4d0cc"/>
<polygon points="150.7,432.2 150.2,433.3 149.6,432.4" fill="#2a2626"/>
<polygon points="100.8,419.2 101.9,421.1 99.1,421.0" fill="#3a3636"/>
<polygon points="88.8,454.6 90.8,452.5 92.2,454.7" fill="#a9a5a2"/>
<polygon points="172.0,430.2 171.9,431.3 171.0,430.8" fill="#bdb9b5"/>
<polygon points="101.0,458.8 99.2,460.1 98.8,457.8" fill="#3a3636"/>
<polygon points="115.1,480.4 116.5,479.6 116.5,481.8" fill="#d4d0cc"/>
<polygon points="122.2,408.5 124.1,407.8 124.0,409.6" fill="#2a2626"/>
<polygon points="151.3,422.1 150.7,423.3 149.9,422.1" fill="#d4d0cc"/>
<polygon points="180.5,443.2 177.0,443.5 178.0,440.5" fill="#3a3636"/>
<polygon points="143.0,409.5 143.8,411.1 141.9,410.7" fill="#8e8a88"/>
<polygon points="167.6,432.8 169.1,432.0 169.3,433.6" fill="#3a3636"/>
<polygon points="175.0,459.0 176.2,459.6 175.0,460.4" fill="#bdb9b5"/>
<polygon points="166.1,427.1 167.3,425.4 168.5,427.2" fill="#bdb9b5"/>
<polygon points="172.5,429.6 174.2,431.1 172.3,432.1" fill="#2a2626"/>
<polygon points="116.2,412.9 115.8,411.3 117.4,411.8" fill="#d4d0cc"/>
<polygon points="131.1,411.2 129.7,412.9 129.0,410.6" fill="#3a3636"/>
<polygon points="106.9,427.1 105.0,429.9 104.0,426.9" fill="#bdb9b5"/>
<polygon points="152.5,420.9 152.4,422.7 150.6,421.6" fill="#8e8a88"/>
<polygon points="137.8,453.6 135.9,455.1 135.7,452.5" fill="#e2dedb"/>
<polygon points="132.0,486.2 131.6,484.2 133.6,485.2" fill="#2a2626"/>
<polygon points="149.3,415.7 148.1,415.7 148.8,414.7" fill="#a9a5a2"/>
<polygon points="145.0,422.0 142.1,421.4 144.0,419.6" fill="#bdb9b5"/>
<polygon points="156.0,423.0 156.8,424.1 155.1,424.1" fill="#bdb9b5"/>
<polygon points="141.1,465.0 143.8,465.1 142.6,467.0" fill="#bdb9b5"/>
<polygon points="120.4,451.1 122.8,452.2 120.8,453.4" fill="#8e8a88"/>
<polygon points="100.9,424.7 103.2,423.1 103.5,425.7" fill="#2a2626"/>
<polygon points="136.6,470.7 138.8,472.1 136.4,473.5" fill="#bdb9b5"/>
<polygon points="93.7,415.5 94.6,416.5 93.4,417.0" fill="#8e8a88"/>
<polygon points="158.7,424.0 157.2,423.1 158.8,422.8" fill="#3a3636"/>
<polygon points="126.9,467.1 125.6,468.5 125.2,466.8" fill="#d4d0cc"/>
<polygon points="121.1,415.4 122.2,413.5 122.7,415.9" fill="#8e8a88"/>
<polygon points="163.4,435.1 165.6,434.5 165.2,436.7" fill="#8e8a88"/>
<polygon points="96.1,409.8 96.7,407.7 98.3,409.2" fill="#bdb9b5"/>
<polygon points="106.5,460.0 104.5,460.5 104.8,458.7" fill="#2a2626"/>
<polygon points="123.6,474.3 122.2,473.9 123.1,472.6" fill="#767270"/>
<polygon points="104.2,430.4 104.7,432.2 102.8,431.7" fill="#bdb9b5"/>
<polygon points="99.2,459.6 98.7,462.0 97.3,460.5" fill="#8e8a88"/>
<polygon points="130.1,441.1 131.8,441.8 130.3,442.7" fill="#3a3636"/>
<polygon points="153.7,458.9 155.9,460.4 153.4,461.3" fill="#d4d0cc"/>
<polygon points="176.5,441.5 176.4,444.0 174.7,442.9" fill="#d4d0cc"/>
<polygon points="171.8,424.6 173.5,424.3 172.8,426.2" fill="#3a3636"/>
<polygon points="106.0,405.6 104.8,407.7 103.4,405.5" fill="#a9a5a2"/>
<polygon points="95.7,418.2 97.8,416.0 99.1,418.7" fill="#2a2626"/>
<polygon points="107.8,415.0 108.2,413.0 109.4,414.3" fill="#2a2626"/>
<polygon points="151.2,469.1 148.9,468.8 150.2,467.2" fill="#3a3636"/>
<polygon points="133.9,397.7 133.0,396.1 134.7,395.9" fill="#a9a5a2"/>
<polygon points="170.8,425.0 170.2,427.5 168.6,425.6" fill="#767270"/>
<polygon points="125.3,452.1 126.5,449.4 127.9,451.7" fill="#a9a5a2"/>
<polygon points="113.0,478.3 116.3,479.3 114.0,480.9" fill="#3a3636"/>
<polygon points="155.8,434.3 153.7,434.4 154.6,432.6" fill="#a9a5a2"/>
<polygon points="174.5,437.4 175.5,438.2 174.1,438.4" fill="#a9a5a2"/>
<polygon points="167.2,412.6 168.9,410.3 170.1,413.1" fill="#2a2626"/>
<polygon points="161.7,404.8 162.2,401.9 164.0,403.4" fill="#bdb9b5"/>
<polygon points="138.6,473.5 137.6,471.4 139.9,471.6" fill="#2a2626"/>
<polygon points="170.6,435.9 172.6,437.0 170.9,438.4" fill="#d4d0cc"/>
<polygon points="120.1,482.2 121.9,483.6 120.1,484.5" fill="#bdb9b5"/>
<polygon points="116.5,403.4 117.7,401.0 119.0,403.2" fill="#d4d0cc"/>
<polygon points="99.5,409.4 99.7,411.4 98.2,410.6" fill="#a9a5a2"/>
<polygon points="164.8,446.9 163.7,446.0 165.2,445.7" fill="#3a3636"/>
<polygon points="124.1,472.9 123.8,474.0 123.0,473.1" fill="#d4d0cc"/>
<polygon points="127.3,442.1 127.4,440.4 128.6,441.6" fill="#e2dedb"/>
<polygon points="162.1,439.7 159.8,439.0 161.6,437.5" fill="#bdb9b5"/>
<polygon points="123.6,459.6 123.4,461.5 122.2,460.2" fill="#2a2626"/>
<polygon points="154.9,456.8 156.6,457.0 155.7,458.7" fill="#e2dedb"/>
<polygon points="98.6,459.2 101.2,458.2 100.3,461.2" fill="#d4d0cc"/>
<polygon points="182.0,450.4 180.1,450.9 180.8,449.1" fill="#2a2626"/>
<polygon points="95.4,411.9 95.2,413.5 94.2,412.6" fill="#bdb9b5"/>
<polygon points="119.5,401.2 120.5,402.2 119.0,402.7" fill="#3a3636"/>
<polygon points="178.4,433.1 179.2,434.6 177.2,434.4" fill="#8e8a88"/>
<polygon points="128.3,463.6 128.5,465.5 126.4,464.7" fill="#a9a5a2"/>
<polygon points="142.2,393.9 143.2,396.7 140.7,396.5" fill="#767270"/>
<polygon points="112.5,397.1 114.4,396.4 114.6,398.1" fill="#bdb9b5"/>
<polygon points="110.6,419.5 110.7,418.2 111.8,418.9" fill="#767270"/>
<polygon points="175.1,425.3 173.0,424.6 174.6,422.7" fill="#3a3636"/>
<polygon points="104.5,435.6 106.1,435.9 105.0,437.3" fill="#2a2626"/>
<polygon points="159.7,467.4 156.9,465.7 160.1,464.5" fill="#3a3636"/>
<polygon points="142.4,476.4 144.9,478.3 141.7,479.8" fill="#e2dedb"/>
<polygon points="154.2,454.0 152.2,453.4 153.8,451.7" fill="#8e8a88"/>
<polygon points="104.6,405.5 104.6,404.0 105.8,404.7" fill="#bdb9b5"/>
<polygon points="163.0,442.8 164.2,442.5 164.0,443.7" fill="#767270"/>
<polygon points="147.6,457.4 147.3,459.5 146.1,458.5" fill="#d4d0cc"/>
<polygon points="137.3,452.2 137.2,454.5 134.9,453.3" fill="#8e8a88"/>
<polygon points="130.0,397.6 132.0,397.5 131.2,399.5" fill="#d4d0cc"/>
<polygon points="136.9,481.4 137.9,477.8 140.3,480.5" fill="#2a2626"/>
<polygon points="135.9,470.5 133.3,470.5 134.6,468.0" fill="#3a3636"/>
<polygon points="151.8,445.8 149.5,444.5 151.2,443.3" fill="#8e8a88"/>
<polygon points="156.0,428.0 158.0,430.4 154.5,430.7" fill="#8e8a88"/>
<polygon points="110.1,457.9 112.0,457.5 111.3,459.3" fill="#a9a5a2"/>
<polygon points="130.5,479.1 131.8,478.9 131.4,480.2" fill="#bdb9b5"/>
<polygon points="132.0,405.5 131.2,408.1 129.7,406.0" fill="#3a3636"/>
<polygon points="119.1,425.4 120.0,422.7 121.7,425.5" fill="#767270"/>
<polygon points="126.2,397.2 124.7,397.7 124.8,396.2" fill="#3a3636"/>
<polygon points="162.4,460.8 160.0,461.4 160.8,459.2" fill="#bdb9b5"/>
<polygon points="143.8,481.5 142.4,481.1 143.6,480.4" fill="#a9a5a2"/>
<polygon points="157.7,437.3 156.6,438.5 156.2,436.7" fill="#2a2626"/>
<polygon points="155.2,406.2 156.4,405.8 156.1,407.0" fill="#bdb9b5"/>
<polygon points="126.9,480.9 124.3,481.3 125.3,478.8" fill="#a9a5a2"/>
<polygon points="113.9,442.9 114.9,444.1 113.6,444.8" fill="#767270"/>
<polygon points="118.9,434.8 121.2,434.1 120.8,436.7" fill="#e2dedb"/>
<polygon points="110.9,395.7 111.2,394.5 112.0,395.3" fill="#e2dedb"/>
<polygon points="156.1,418.5 157.9,416.1 159.6,418.8" fill="#a9a5a2"/>
<polygon points="143.1,468.6 142.1,470.1 141.6,468.3" fill="#a9a5a2"/>
<polygon points="166.8,453.8 166.0,452.9 167.4,452.9" fill="#a9a5a2"/>
<polygon points="136.5,414.9 134.6,417.2 133.7,414.3" fill="#a9a5a2"/>
<polygon points="127.1,458.1 128.7,457.1 128.6,458.8" fill="#767270"/>
<polygon points="113.9,444.8 116.1,446.7 113.2,447.3" fill="#767270"/>
<polygon points="105.4,472.0 107.0,472.0 106.0,473.9" fill="#8e8a88"/>
<polygon points="180.6,435.5 178.4,435.4 179.2,433.1" fill="#8e8a88"/>
<polygon points="129.5,458.5 127.1,456.5 129.7,455.2" fill="#bdb9b5"/>
<polygon points="134.4,477.2 133.2,474.7 136.4,474.7" fill="#767270"/>
<polygon points="142.5,444.0 141.0,445.1 140.8,443.1" fill="#d4d0cc"/>
<polygon points="168.6,444.7 169.7,443.1 170.4,444.8" fill="#8e8a88"/>
<polygon points="111.0,464.8 114.2,464.8 113.1,467.7" fill="#3a3636"/>
<polygon points="156.9,441.6 153.9,442.2 154.7,439.6" fill="#2a2626"/>
<polygon points="103.7,440.7 106.8,441.8 104.6,443.4" fill="#a9a5a2"/>
<polygon points="146.3,399.1 149.0,400.3 146.9,402.0" fill="#2a2626"/>
<polygon points="144.7,460.7 143.8,461.6 143.7,460.4" fill="#3a3636"/>
<polygon points="135.8,432.8 133.4,433.9 133.8,431.6" fill="#bdb9b5"/>
<polygon points="154.8,398.7 153.8,399.7 153.5,398.2" fill="#2a2626"/>
<polygon points="130.8,439.2 129.6,439.1 130.2,438.3" fill="#d4d0cc"/>
<polygon points="125.7,426.9 123.4,427.7 123.8,425.5" fill="#bdb9b5"/>
<polygon points="132.1,460.1 130.8,461.9 129.3,460.2" fill="#8e8a88"/>
<polygon points="100.3,419.0 97.8,419.5 98.2,417.3" fill="#bdb9b5"/>
<polygon points="106.2,474.8 106.4,477.2 104.4,476.3" fill="#a9a5a2"/>
<polygon points="94.3,456.2 96.3,456.7 94.9,458.1" fill="#bdb9b5"/>
<polygon points="134.9,393.7 135.7,392.1 136.7,393.7" fill="#8e8a88"/>
<polygon points="109.9,448.5 108.1,449.4 108.5,447.0" fill="#e2dedb"/>
<polygon points="168.5,466.9 167.4,464.7 169.5,464.5" fill="#a9a5a2"/>
<polygon points="125.3,396.8 122.5,396.9 124.0,394.8" fill="#d4d0cc"/>
<polygon points="121.5,445.0 123.3,444.2 123.3,445.9" fill="#a9a5a2"/>
<polygon points="150.7,450.5 151.3,448.7 152.4,449.8" fill="#8e8a88"/>
<polygon points="142.5,420.6 140.6,419.1 142.6,417.7" fill="#8e8a88"/>
<polygon points="110.6,479.6 111.3,481.0 109.4,480.6" fill="#d4d0cc"/>
<polygon points="130.0,482.7 127.4,481.5 129.5,479.9" fill="#3a3636"/>
<polygon points="115.5,456.5 113.2,455.4 115.3,454.1" fill="#bdb9b5"/>
<polygon points="144.1,471.7 142.3,471.2 143.9,470.0" fill="#d4d0cc"/>
<polygon points="156.0,474.6 156.0,473.0 157.6,473.8" fill="#767270"/>
<polygon points="140.1,411.5 140.7,410.0 141.8,411.2" fill="#bdb9b5"/>
<polygon points="137.4,446.4 137.8,443.9 139.8,445.4" fill="#e2dedb"/>
<polygon points="170.5,461.4 169.4,463.1 168.1,461.0" fill="#e2dedb"/>
<polygon points="145.6,445.2 146.6,445.7 145.7,446.5" fill="#767270"/>
<polygon points="151.8,414.5 151.1,415.8 149.9,414.9" fill="#bdb9b5"/>
<polygon points="147.9,392.4 147.0,394.1 146.6,392.2" fill="#767270"/>
<polygon points="160.6,407.8 161.3,406.1 162.6,407.7" fill="#3a3636"/>
<polygon points="135.5,392.7 136.8,393.1 135.9,393.9" fill="#bdb9b5"/>
<polygon points="92.5,452.2 91.4,453.1 91.2,451.4" fill="#a9a5a2"/>
<polygon points="116.0,481.0 112.9,480.1 115.2,477.9" fill="#767270"/>
<polygon points="151.5,438.8 149.7,438.3 150.7,436.8" fill="#d4d0cc"/>
<polygon points="131.2,398.7 129.9,396.6 132.8,396.2" fill="#d4d0cc"/>
<polygon points="111.4,437.9 110.4,439.6 109.3,437.9" fill="#d4d0cc"/>
<polygon points="133.9,447.8 135.1,449.1 133.1,449.8" fill="#767270"/>
<polygon points="108.1,471.6 111.1,472.2 108.7,474.5" fill="#2a2626"/>
<polygon points="105.8,464.2 107.2,464.2 106.6,465.7" fill="#3a3636"/>
<polygon points="138.3,391.6 135.2,392.8 135.5,389.8" fill="#e2dedb"/>
<polygon points="168.0,436.1 167.2,436.9 166.7,435.9" fill="#d4d0cc"/>
<polygon points="130.9,444.2 133.3,446.3 130.4,447.0" fill="#3a3636"/>
<polygon points="171.6,450.6 170.2,452.7 168.5,451.0" fill="#3a3636"/>
<polygon points="92.1,425.9 93.8,424.5 94.0,427.0" fill="#a9a5a2"/>
<polygon points="162.3,417.4 164.1,417.0 163.5,418.7" fill="#8e8a88"/>
<polygon points="128.7,394.4 130.5,392.9 130.7,395.7" fill="#8e8a88"/>
<polygon points="124.6,451.6 123.3,452.2 123.5,450.5" fill="#bdb9b5"/>
<polygon points="126.5,480.8 128.0,481.5 126.5,482.6" fill="#a9a5a2"/>
<polygon points="94.2,447.0 95.8,448.2 93.9,449.0" fill="#767270"/>
<polygon points="112.0,397.4 113.2,398.5 111.5,398.9" fill="#3a3636"/>
<polygon points="106.8,429.7 104.0,429.4 105.5,427.1" fill="#2a2626"/>
<polygon points="124.7,439.7 126.6,439.8 125.5,441.3" fill="#2a2626"/>
<polygon points="123.2,401.7 121.2,401.9 122.1,400.4" fill="#bdb9b5"/>
<polygon points="127.1,410.9 125.6,409.3 128.4,409.2" fill="#a9a5a2"/>
<polygon points="144.8,479.4 144.6,480.9 143.1,479.9" fill="#d4d0cc"/>
<polygon points="128.3,389.2 128.1,391.5 126.9,390.4" fill="#d4d0cc"/>
<polygon points="165.5,404.0 167.6,402.0 167.9,405.0" fill="#767270"/>
<polygon points="157.0,402.6 159.7,403.1 158.1,405.3" fill="#bdb9b5"/>
<polygon points="112.8,456.5 113.2,458.0 112.0,457.7" fill="#8e8a88"/>
<polygon points="175.8,429.7 177.7,429.9 176.3,431.7" fill="#8e8a88"/>
<polygon points="97.0,468.0 99.7,467.6 98.6,470.3" fill="#d4d0cc"/>
<polygon points="125.4,433.7 127.2,433.9 126.0,435.4" fill="#d4d0cc"/>
<polygon points="104.7,449.4 104.8,453.0 102.5,451.6" fill="#bdb9b5"/>
<polygon points="131.6,413.8 134.2,415.2 131.4,416.4" fill="#bdb9b5"/>
<polygon points="117.8,412.7 120.2,412.1 119.4,415.1" fill="#bdb9b5"/>
<polygon points="97.0,463.9 96.1,464.6 95.8,463.2" fill="#767270"/>
<polygon points="175.3,429.5 174.9,427.6 177.2,428.1" fill="#bdb9b5"/>
<polygon points="130.6,441.6 131.6,444.7 128.7,444.2" fill="#a9a5a2"/>
<polygon points="105.3,450.1 106.6,450.4 105.6,451.3" fill="#e2dedb"/>
<polygon points="117.6,404.1 116.3,404.6 116.7,403.4" fill="#767270"/>
<polygon points="129.2,422.2 128.8,423.6 127.8,422.4" fill="#8e8a88"/>
<polygon points="104.4,426.0 102.9,425.0 104.3,423.8" fill="#bdb9b5"/>
<polygon points="173.3,457.8 171.9,456.2 173.8,455.7" fill="#8e8a88"/>
<polygon points="173.1,461.5 173.4,464.4 170.7,462.9" fill="#8e8a88"/>
<polygon points="123.9,422.0 125.9,423.2 123.7,424.3" fill="#a9a5a2"/>
<polygon points="167.7,430.8 168.1,432.7 166.7,432.2" fill="#767270"/>
<polygon points="108.9,431.5 108.1,433.9 106.8,432.1" fill="#e2dedb"/>
<polygon points="143.6,481.6 141.7,480.8 143.2,479.4" fill="#3a3636"/>
<polygon points="124.7,467.0 126.1,464.1 127.7,466.5" fill="#767270"/>
<polygon points="139.7,421.8 138.0,420.1 140.7,419.6" fill="#bdb9b5"/>
<polygon points="158.0,436.4 156.3,437.1 156.4,435.4" fill="#d4d0cc"/>
<polygon points="133.5,400.5 133.7,403.7 130.8,402.2" fill="#d4d0cc"/>
<polygon points="173.3,417.1 171.1,419.5 170.5,416.1" fill="#8e8a88"/>
<polygon points="162.4,475.4 162.1,472.2 164.4,473.7" fill="#bdb9b5"/>
<polygon points="175.3,431.2 174.8,432.1 173.9,431.2" fill="#e2dedb"/>
<polygon points="144.8,438.8 144.2,437.4 145.9,437.7" fill="#8e8a88"/>
<polygon points="103.8,401.0 105.2,399.4 105.6,401.6" fill="#2a2626"/>
<polygon points="168.6,424.7 170.7,425.3 169.0,427.0" fill="#3a3636"/>
<polygon points="140.7,476.6 142.5,476.4 141.5,478.4" fill="#a9a5a2"/>
<polygon points="142.5,415.3 142.9,412.9 144.9,414.7" fill="#a9a5a2"/>
<polygon points="165.4,437.8 163.4,437.9 164.3,436.2" fill="#bdb9b5"/>
<polygon points="91.0,441.8 90.4,443.9 88.5,442.4" fill="#bdb9b5"/>
<polygon points="117.2,419.5 118.1,420.8 116.3,421.0" fill="#767270"/>
<polygon points="161.6,437.9 160.2,436.9 161.9,436.5" fill="#767270"/>
<polygon points="129.6,432.5 131.0,430.4 131.9,432.9" fill="#3a3636"/>
<polygon points="158.0,402.3 157.1,403.3 156.6,402.1" fill="#a9a5a2"/>
<polygon points="125.0,441.4 124.0,440.9 124.8,440.2" fill="#d4d0cc"/>
<polygon points="175.0,441.9 177.2,440.6 176.9,443.5" fill="#2a2626"/>
<polygon points="105.7,464.7 108.9,465.4 106.3,467.7" fill="#8e8a88"/>
<polygon points="140.0,401.7 139.8,400.6 140.7,400.9" fill="#2a2626"/>
<polygon points="156.8,444.0 155.7,447.0 154.1,444.4" fill="#3a3636"/>
<polygon points="130.2,436.4 130.9,438.6 128.6,437.7" fill="#767270"/>
<polygon points="152.0,459.6 150.4,458.4 152.5,457.6" fill="#3a3636"/>
<polygon points="90.9,443.9 89.8,441.5 93.4,441.8" fill="#bdb9b5"/>
<polygon points="134.3,407.5 135.6,407.9 134.6,409.1" fill="#8e8a88"/>
<polygon points="165.8,414.6 163.7,414.1 165.0,412.1" fill="#a9a5a2"/>
<polygon points="98.2,442.1 95.0,441.3 97.4,438.8" fill="#d4d0cc"/>
<polygon points="154.3,475.7 152.4,477.3 152.5,474.2" fill="#8e8a88"/>
<polygon points="90.3,443.6 91.1,441.7 92.1,443.5" fill="#8e8a88"/>
<polygon points="95.4,412.3 96.4,413.0 95.3,413.4" fill="#767270"/>
<polygon points="147.5,470.5 145.9,469.7 147.6,468.8" fill="#8e8a88"/>
<polygon points="114.5,434.0 112.8,435.7 112.6,433.4" fill="#d4d0cc"/>
<polygon points="174.1,419.2 172.6,421.6 171.1,419.0" fill="#bdb9b5"/>
<polygon points="156.0,409.6 157.7,412.0 154.1,411.6" fill="#8e8a88"/>
<polygon points="116.5,475.8 114.4,474.5 116.4,472.2" fill="#d4d0cc"/>
<polygon points="152.2,476.3 151.3,475.1 152.8,474.9" fill="#e2dedb"/>
<polygon points="146.4,401.0 147.3,399.0 148.5,400.8" fill="#767270"/>
<polygon points="142.6,464.4 143.9,464.9 142.9,466.1" fill="#a9a5a2"/>
<polygon points="143.9,392.2 142.3,391.4 143.6,389.9" fill="#3a3636"/>
<polygon points="126.6,462.8 128.4,461.2 129.0,463.5" fill="#8e8a88"/>
<polygon points="105.1,467.3 103.0,467.6 103.8,466.0" fill="#3a3636"/>
<polygon points="160.3,429.2 157.7,427.6 160.3,426.1" fill="#a9a5a2"/>
<polygon points="182.4,428.0 181.6,430.4 180.2,427.9" fill="#8e8a88"/>
<polygon points="156.2,460.4 158.3,460.6 157.0,462.6" fill="#bdb9b5"/>
<polygon points="146.2,406.9 145.3,405.7 147.2,405.5" fill="#e2dedb"/>
<polygon points="137.7,462.4 139.3,462.9 138.1,464.1" fill="#bdb9b5"/>
<polygon points="106.8,450.1 108.6,450.3 107.3,451.8" fill="#8e8a88"/>
<polygon points="105.8,468.9 103.4,467.4 106.0,466.5" fill="#e2dedb"/>
<polygon points="98.6,458.1 99.8,460.0 97.7,460.1" fill="#8e8a88"/>
<polygon points="164.2,422.3 165.7,423.0 164.5,424.1" fill="#bdb9b5"/>
<polygon points="134.1,427.0 135.8,427.7 134.3,429.0" fill="#a9a5a2"/>
<polygon points="161.1,474.9 163.1,473.8 163.2,476.0" fill="#3a3636"/>
<polygon points="146.8,407.7 147.8,409.0 146.1,409.2" fill="#bdb9b5"/>
<polygon points="142.1,397.2 140.7,397.5 141.1,396.2" fill="#bdb9b5"/>
<polygon points="109.5,463.3 111.8,461.4 112.1,464.0" fill="#767270"/>
<polygon points="133.5,437.5 135.2,438.9 132.6,439.5" fill="#bdb9b5"/>
<polygon points="141.6,473.2 143.6,471.9 143.9,474.3" fill="#767270"/>
<polygon points="144.2,411.0 145.8,409.2 146.9,411.0" fill="#d4d0cc"/>
<polygon points="118.7,447.2 121.6,445.6 121.4,448.5" fill="#2a2626"/>
<polygon points="107.1,465.2 105.1,463.7 107.3,463.0" fill="#8e8a88"/>
<polygon points="149.4,482.6 150.8,484.4 148.3,484.9" fill="#d4d0cc"/>
<polygon points="148.1,465.6 149.3,464.5 149.7,466.5" fill="#bdb9b5"/>
<polygon points="108.2,418.9 108.6,421.1 107.0,420.8" fill="#e2dedb"/>
<polygon points="160.3,458.7 159.5,460.8 158.1,459.3" fill="#bdb9b5"/>
<polygon points="123.4,483.9 125.1,483.2 125.0,484.9" fill="#767270"/>
<polygon points="119.2,429.6 116.9,428.5 119.0,426.9" fill="#8e8a88"/>
<polygon points="120.7,409.3 122.5,409.9 121.3,411.1" fill="#3a3636"/>
<polygon points="156.2,427.2 158.4,428.7 156.5,429.9" fill="#2a2626"/>
<polygon points="127.7,482.8 126.1,483.1 126.7,481.3" fill="#a9a5a2"/>
<polygon points="173.8,425.8 175.5,423.2 176.4,425.7" fill="#3a3636"/>
<polygon points="91.5,418.1 92.4,415.3 94.7,417.4" fill="#3a3636"/>
<polygon points="109.2,442.9 107.6,442.4 108.9,441.1" fill="#a9a5a2"/>
<polygon points="143.4,448.2 143.7,446.2 145.2,447.3" fill="#767270"/>
<polygon points="122.0,470.1 123.7,470.6 122.5,472.4" fill="#3a3636"/>
<polygon points="118.5,400.5 120.2,401.2 118.7,402.0" fill="#bdb9b5"/>
<polygon points="114.8,431.9 115.2,430.4 116.6,431.4" fill="#bdb9b5"/>
<polygon points="166.6,406.4 166.2,404.2 168.0,404.7" fill="#bdb9b5"/>
<polygon points="112.2,402.6 112.0,401.3 113.4,401.9" fill="#2a2626"/>
<polygon points="146.6,398.6 148.0,399.6 146.4,400.8" fill="#bdb9b5"/>
<polygon points="95.6,448.6 96.3,450.2 94.8,450.2" fill="#a9a5a2"/>
<polygon points="96.4,452.9 94.7,452.6 96.0,451.1" fill="#bdb9b5"/>
<polygon points="147.9,481.1 147.4,479.4 149.2,479.8" fill="#e2dedb"/>
<polygon points="131.5,429.7 131.6,428.3 132.7,428.9" fill="#3a3636"/>
<polygon points="134.0,435.0 134.8,432.5 136.4,434.7" fill="#3a3636"/>
<polygon points="131.1,403.5 131.3,401.8 132.6,402.7" fill="#2a2626"/>
<polygon points="144.6,470.4 142.7,470.5 143.6,468.4" fill="#8e8a88"/>
<polygon points="142.9,473.6 144.7,474.5 143.1,476.0" fill="#8e8a88"/>
<polygon points="164.6,460.6 166.9,459.3 167.2,461.4" fill="#8e8a88"/>
<polygon points="167.8,456.5 170.4,455.2 171.1,457.6" fill="#8e8a88"/>
<polygon points="143.3,436.6 145.1,435.3 145.4,437.4" fill="#bdb9b5"/>
<polygon points="168.1,423.8 166.3,424.2 166.8,422.7" fill="#d4d0cc"/>
<polygon points="137.2,469.2 136.6,467.1 138.6,467.7" fill="#2a2626"/>
<polygon points="147.1,401.4 146.8,398.7 149.7,399.8" fill="#8e8a88"/>
<polygon points="172.9,409.4 170.9,408.8 172.4,407.2" fill="#8e8a88"/>
<polygon points="134.9,434.6 135.9,436.1 133.7,436.3" fill="#a9a5a2"/>
<polygon points="119.2,444.6 121.0,445.5 119.4,447.2" fill="#a9a5a2"/>
<polygon points="134.6,452.8 132.2,452.8 133.7,450.7" fill="#a9a5a2"/>
<polygon points="104.5,439.5 103.6,437.7 105.8,438.0" fill="#8e8a88"/>
<polygon points="130.2,427.2 129.0,427.8 129.2,426.2" fill="#767270"/>
<polygon points="124.7,407.4 128.4,407.5 126.3,409.6" fill="#2a2626"/>
<polygon points="116.9,405.4 115.0,406.7 114.9,404.1" fill="#2a2626"/>
<polygon points="97.1,446.8 96.7,449.4 95.0,447.4" fill="#d4d0cc"/>
<polygon points="168.5,409.2 168.7,407.4 170.1,408.4" fill="#bdb9b5"/>
<polygon points="165.4,418.8 163.3,417.2 165.6,416.4" fill="#bdb9b5"/>
<polygon points="120.5,409.4 122.8,410.4 120.6,411.8" fill="#d4d0cc"/>
<polygon points="110.5,425.4 112.7,425.5 111.3,426.8" fill="#8e8a88"/>
<polygon points="108.6,429.6 111.7,429.5 110.3,432.7" fill="#2a2626"/>
<polygon points="176.0,444.7 173.7,444.3 175.3,442.4" fill="#3a3636"/>
<polygon points="161.4,425.5 159.3,425.1 160.7,422.9" fill="#2a2626"/>
<polygon points="165.7,448.0 164.4,447.6 165.2,446.2" fill="#3a3636"/>
<polygon points="146.8,401.5 145.5,400.4 147.1,399.8" fill="#d4d0cc"/>
<polygon points="145.6,474.7 143.4,473.6 145.6,472.6" fill="#3a3636"/>
<polygon points="149.2,415.7 147.1,414.2 149.7,412.7" fill="#bdb9b5"/>
<polygon points="105.7,401.2 106.7,403.1 104.2,402.6" fill="#767270"/>
<polygon points="158.6,478.7 158.3,481.5 155.9,479.7" fill="#e2dedb"/>
<polygon points="87.9,447.1 86.6,448.6 86.2,446.1" fill="#3a3636"/>
<polygon points="135.9,432.2 133.5,431.3 135.2,429.8" fill="#3a3636"/>
<polygon points="161.6,448.6 161.5,446.8 163.4,447.4" fill="#a9a5a2"/>
<polygon points="140.3,422.6 138.9,423.2 139.0,421.8" fill="#a9a5a2"/>
<polygon points="116.2,421.7 117.6,420.4 118.3,421.9" fill="#d4d0cc"/>
<polygon points="89.0,454.2 90.9,454.7 89.9,456.4" fill="#e2dedb"/>
<polygon points="142.4,463.2 141.0,460.7 143.1,460.3" fill="#a9a5a2"/>
<polygon points="99.5,432.6 100.5,431.1 101.2,433.0" fill="#e2dedb"/>
<polygon points="170.1,417.8 168.5,420.4 167.1,418.0" fill="#e2dedb"/>
<polygon points="149.5,467.5 149.2,465.2 151.6,466.2" fill="#767270"/>
<polygon points="144.5,477.7 143.4,478.8 143.0,477.1" fill="#767270"/>
<polygon points="147.0,438.0 145.9,440.2 144.4,438.2" fill="#8e8a88"/>
<polygon points="128.4,422.0 128.3,420.8 129.5,421.3" fill="#767270"/>
<polygon points="175.5,435.1 177.0,434.3 177.0,436.2" fill="#8e8a88"/>
<polygon points="137.2,439.9 138.0,438.1 139.5,439.5" fill="#767270"/>
<polygon points="113.2,434.7 115.7,435.6 113.1,436.9" fill="#767270"/>
<polygon points="118.8,393.9 118.7,395.6 117.5,394.8" fill="#8e8a88"/>
<polygon points="162.8,464.0 165.7,465.1 163.6,466.8" fill="#3a3636"/>
<polygon points="135.9,461.3 135.6,462.8 134.9,461.6" fill="#2a2626"/>
<polygon points="152.0,430.6 153.1,428.2 154.7,430.8" fill="#d4d0cc"/>
<polygon points="110.5,424.9 109.4,426.6 108.5,424.9" fill="#8e8a88"/>
<polygon points="157.3,442.2 156.5,443.7 155.6,442.0" fill="#3a3636"/>
<polygon points="165.7,465.5 165.2,468.6 162.7,466.8" fill="#a9a5a2"/>
<polygon points="89.9,434.9 88.2,433.7 90.2,432.4" fill="#d4d0cc"/>
<polygon points="151.2,443.7 153.6,444.8 151.4,446.8" fill="#767270"/>
<polygon points="123.5,429.6 124.8,430.5 123.1,430.9" fill="#3a3636"/>
<polygon points="93.8,451.5 95.3,451.5 94.7,452.5" fill="#3a3636"/>
<polygon points="109.8,458.1 112.7,458.7 111.4,460.9" fill="#e2dedb"/>
<polygon points="158.2,420.2 156.8,422.1 156.0,419.9" fill="#bdb9b5"/>
<polygon points="123.6,394.7 125.4,394.8 124.5,396.7" fill="#2a2626"/>
<polygon points="143.5,477.4 144.9,475.0 147.2,476.8" fill="#8e8a88"/>
<polygon points="180.6,435.6 179.5,435.8 179.8,434.8" fill="#a9a5a2"/>
<polygon points="129.2,435.2 131.0,433.8 131.6,436.2" fill="#8e8a88"/>
<polygon points="167.4,403.2 167.1,404.6 165.6,403.8" fill="#3a3636"/>
<polygon points="121.6,468.2 122.4,466.8 123.5,468.0" fill="#a9a5a2"/>
<polygon points="150.7,413.3 149.8,410.9 152.4,411.0" fill="#767270"/>
<polygon points="116.7,452.5 114.7,452.3 115.8,451.0" fill="#d4d0cc"/>
<polygon points="127.0,409.8 129.8,408.9 129.8,411.8" fill="#bdb9b5"/>
<polygon points="98.1,437.6 97.7,434.2 100.9,435.5" fill="#2a2626"/>
<polygon points="90.9,441.2 91.1,442.6 89.8,442.2" fill="#3a3636"/>
<polygon points="140.5,453.6 140.1,455.6 138.5,454.4" fill="#8e8a88"/>
<polygon points="166.7,445.9 167.2,443.6 169.2,444.8" fill="#d4d0cc"/>
<polygon points="107.2,425.5 107.7,422.3 109.9,424.1" fill="#a9a5a2"/>
<polygon points="156.3,445.0 158.7,444.8 158.0,447.3" fill="#d4d0cc"/>
<polygon points="98.3,409.4 98.4,406.8 99.9,408.0" fill="#e2dedb"/>
<polygon points="146.1,453.4 144.7,454.6 144.7,452.7" fill="#bdb9b5"/>
<polygon points="141.5,416.1 140.3,414.4 142.6,414.1" fill="#8e8a88"/>
<polygon points="129.9,451.2 129.3,450.0 130.7,450.0" fill="#8e8a88"/>
<polygon points="139.7,438.6 138.0,436.8 140.3,436.1" fill="#bdb9b5"/>
<polygon points="150.3,464.7 149.9,466.4 148.3,465.2" fill="#d4d0cc"/>
<polygon points="140.1,447.2 141.1,448.1 140.0,448.5" fill="#e2dedb"/>
<polygon points="145.7,408.7 144.3,408.6 144.9,407.6" fill="#3a3636"/>
<polygon points="153.6,392.4 153.8,394.7 151.6,393.8" fill="#3a3636"/>
<polygon points="136.6,477.9 135.6,477.2 136.7,476.6" fill="#767270"/>
<polygon points="142.3,431.6 141.0,433.9 139.8,431.7" fill="#3a3636"/>
<polygon points="138.1,446.9 137.5,449.1 135.1,447.5" fill="#d4d0cc"/>
<polygon points="164.5,445.5 162.1,445.4 163.5,443.4" fill="#767270"/>
<polygon points="140.0,485.7 138.9,483.6 141.5,483.5" fill="#d4d0cc"/>
<polygon points="130.9,484.6 132.2,482.6 133.2,484.7" fill="#d4d0cc"/>
<polygon points="149.1,477.0 150.6,478.7 148.8,479.5" fill="#2a2626"/>
<polygon points="156.1,424.2 154.9,423.4 156.3,423.0" fill="#2a2626"/>
<polygon points="131.1,432.4 133.2,431.6 133.0,433.8" fill="#bdb9b5"/>
<polygon points="126.6,469.1 123.9,471.2 123.2,468.1" fill="#d4d0cc"/>
<polygon points="110.1,466.2 111.2,466.9 109.7,467.2" fill="#bdb9b5"/>
<polygon points="175.0,420.8 176.8,419.1 177.1,421.4" fill="#2a2626"/>
<polygon points="171.7,456.1 172.5,457.2 171.2,457.4" fill="#767270"/>
<polygon points="94.2,462.4 93.7,464.3 92.6,462.9" fill="#767270"/>
<polygon points="123.8,459.6 124.8,458.4 125.7,459.9" fill="#bdb9b5"/>
<polygon points="99.1,419.6 98.5,420.8 97.6,419.7" fill="#3a3636"/>
<polygon points="161.1,406.1 164.0,404.7 164.4,408.1" fill="#e2dedb"/>
<polygon points="106.7,444.7 106.1,442.4 108.1,442.5" fill="#a9a5a2"/>
<polygon points="95.0,441.6 93.6,440.8 94.9,440.1" fill="#3a3636"/>
<polygon points="145.0,420.1 142.5,418.8 144.8,417.1" fill="#bdb9b5"/>
<polygon points="152.2,466.6 153.2,468.0 151.9,468.4" fill="#3a3636"/>
<polygon points="114.9,464.7 113.2,463.2 115.6,462.5" fill="#d4d0cc"/>
<polygon points="149.2,461.9 149.2,465.1 146.9,463.5" fill="#bdb9b5"/>
<polygon points="142.5,477.6 140.6,479.6 140.5,476.4" fill="#2a2626"/>
<polygon points="126.6,470.7 124.3,471.4 124.7,469.6" fill="#bdb9b5"/>
<polygon points="105.5,455.2 104.2,452.8 107.0,452.7" fill="#a9a5a2"/>
<polygon points="152.8,420.1 155.3,419.9 154.1,421.9" fill="#bdb9b5"/>
<polygon points="119.6,425.7 121.0,428.1 118.5,427.8" fill="#767270"/>
<polygon points="120.6,393.8 119.0,396.6 117.9,393.9" fill="#8e8a88"/>
<polygon points="112.0,470.8 111.8,473.4 110.3,472.3" fill="#e2dedb"/>
<polygon points="152.1,473.9 152.2,476.5 150.4,475.2" fill="#8e8a88"/>
<polygon points="174.6,432.0 176.3,433.8 173.9,434.2" fill="#d4d0cc"/>
<polygon points="109.9,434.8 107.7,433.8 109.8,432.4" fill="#d4d0cc"/>
<polygon points="163.9,452.7 162.6,454.2 161.9,452.4" fill="#2a2626"/>
<polygon points="161.2,435.6 162.4,437.6 160.1,437.8" fill="#a9a5a2"/>
<polygon points="180.5,437.0 182.3,437.7 180.9,439.0" fill="#e2dedb"/>
<polygon points="149.6,467.9 151.6,468.4 150.2,470.0" fill="#3a3636"/>
<polygon points="180.9,427.6 181.4,430.4 179.3,429.6" fill="#8e8a88"/>
<polygon points="114.4,398.8 114.3,401.3 112.5,399.7" fill="#3a3636"/>
<polygon points="120.1,398.1 122.1,397.8 121.3,399.7" fill="#bdb9b5"/>
<polygon points="161.2,467.6 163.6,469.8 160.6,471.0" fill="#767270"/>
<polygon points="139.6,444.1 136.9,444.2 138.2,441.6" fill="#3a3636"/>
<polygon points="159.3,456.8 157.9,455.0 160.1,455.0" fill="#e2dedb"/>
<polygon points="95.3,444.6 94.1,443.9 95.1,443.0" fill="#2a2626"/>
<polygon points="148.0,414.9 147.5,413.3 149.2,413.4" fill="#2a2626"/>
<polygon points="166.5,459.2 167.0,456.6 169.4,458.5" fill="#a9a5a2"/>
<polygon points="101.1,437.8 101.7,434.5 103.9,436.7" fill="#bdb9b5"/>
<polygon points="112.6,462.5 111.2,461.1 113.2,460.9" fill="#d4d0cc"/>
<polygon points="156.2,434.3 157.6,434.1 156.9,435.3" fill="#a9a5a2"/>
<polygon points="118.0,428.6 116.4,429.1 116.9,427.3" fill="#bdb9b5"/>
<polygon points="154.0,419.3 151.7,419.9 152.1,417.9" fill="#bdb9b5"/>
<polygon points="111.4,400.1 112.4,399.4 112.5,400.6" fill="#3a3636"/>
<polygon points="109.2,467.6 112.2,466.1 111.5,469.8" fill="#bdb9b5"/>
<polygon points="154.8,461.7 153.0,463.6 152.4,461.6" fill="#a9a5a2"/>
<polygon points="109.7,402.4 109.2,403.9 107.8,402.8" fill="#a9a5a2"/>
<polygon points="132.9,425.3 135.5,425.2 134.2,427.6" fill="#a9a5a2"/>
<polygon points="131.3,471.4 134.0,470.4 133.6,473.6" fill="#8e8a88"/>
<polygon points="144.5,393.4 143.9,395.3 142.7,393.7" fill="#8e8a88"/>
<polygon points="134.1,408.8 131.8,409.3 132.5,407.6" fill="#d4d0cc"/>
<polygon points="140.3,408.2 139.1,406.0 141.4,406.2" fill="#a9a5a2"/>
<polygon points="138.7,480.7 140.2,478.6 140.9,480.9" fill="#bdb9b5"/>
<polygon points="149.5,410.4 150.9,410.6 150.1,411.8" fill="#3a3636"/>
<polygon points="166.3,448.7 165.2,450.1 165.0,448.1" fill="#767270"/>
<polygon points="128.4,437.0 128.6,435.0 130.8,435.8" fill="#d4d0cc"/>
<polygon points="138.9,390.7 137.4,392.5 136.1,390.5" fill="#a9a5a2"/>
<polygon points="105.3,475.9 106.7,472.6 108.4,475.6" fill="#2a2626"/>
<polygon points="105.7,456.6 106.4,458.9 103.7,458.6" fill="#767270"/>
<polygon points="145.3,397.8 143.6,398.1 144.4,396.5" fill="#3a3636"/>
<polygon points="164.6,453.5 167.4,452.2 167.2,454.9" fill="#2a2626"/>
<polygon points="160.0,426.6 161.9,429.1 158.2,428.6" fill="#8e8a88"/>
<polygon points="153.0,479.9 151.6,481.5 150.3,479.7" fill="#767270"/>
<polygon points="126.7,423.7 125.1,423.4 126.2,422.2" fill="#767270"/>
<polygon points="151.8,464.1 150.9,462.4 152.9,462.5" fill="#3a3636"/>
<polygon points="166.4,418.4 168.0,418.2 167.2,419.9" fill="#8e8a88"/>
<polygon points="107.2,405.8 108.4,405.8 107.9,407.1" fill="#2a2626"/>
<polygon points="182.1,429.1 180.1,428.3 181.9,427.3" fill="#a9a5a2"/>
<polygon points="165.1,449.0 163.2,451.6 162.0,448.3" fill="#bdb9b5"/>
<polygon points="161.8,466.4 160.3,466.6 160.7,465.5" fill="#a9a5a2"/>
<polygon points="156.3,434.2 154.8,436.3 153.7,434.0" fill="#8e8a88"/>
<polygon points="115.0,407.8 116.9,406.4 117.3,409.1" fill="#d4d0cc"/>
<polygon points="170.5,459.6 169.0,460.3 169.0,458.9" fill="#bdb9b5"/>
<polygon points="146.3,468.2 144.6,465.7 147.3,465.1" fill="#a9a5a2"/>
<polygon points="177.9,439.8 180.8,438.4 180.7,441.1" fill="#bdb9b5"/>
<polygon points="139.2,417.6 141.0,415.9 142.4,418.1" fill="#bdb9b5"/>
<polygon points="157.3,412.0 158.0,414.3 155.8,413.6" fill="#d4d0cc"/>
<polygon points="137.1,391.8 138.4,389.5 139.4,392.3" fill="#bdb9b5"/>
<polygon points="153.7,480.6 155.3,478.8 156.0,480.9" fill="#8e8a88"/>
<polygon points="145.0,400.7 143.7,398.9 146.0,398.7" fill="#3a3636"/>
<polygon points="129.5,432.3 133.0,432.9 130.8,434.9" fill="#2a2626"/>
<polygon points="135.3,390.4 136.3,390.1 136.0,391.4" fill="#767270"/>
<polygon points="144.0,399.9 145.1,401.1 143.8,401.9" fill="#2a2626"/>
<polygon points="164.5,408.0 163.0,407.6 164.1,406.6" fill="#e2dedb"/>
<polygon points="159.3,447.2 158.5,445.1 161.0,445.7" fill="#8e8a88"/>
<polygon points="180.6,436.4 178.6,436.8 179.1,435.3" fill="#a9a5a2"/>
<polygon points="103.3,405.3 104.7,405.6 103.7,406.9" fill="#a9a5a2"/>
<polygon points="123.0,477.3 123.3,476.1 124.4,477.0" fill="#a9a5a2"/>
<polygon points="103.2,405.5 101.0,404.2 103.1,402.8" fill="#3a3636"/>
<polygon points="144.9,444.2 146.1,446.2 144.0,446.3" fill="#8e8a88"/>
<polygon points="154.4,419.2 152.9,420.3 152.3,419.0" fill="#2a2626"/>
<polygon points="135.1,467.5 136.1,468.9 134.3,469.0" fill="#bdb9b5"/>
<polygon points="89.8,440.2 90.5,441.8 88.8,441.6" fill="#a9a5a2"/>
<polygon points="117.4,442.1 118.7,439.8 119.6,442.2" fill="#a9a5a2"/>
<polygon points="119.3,427.1 116.4,426.3 118.6,424.4" fill="#bdb9b5"/>
<polygon points="145.1,459.6 146.7,460.2 145.2,461.1" fill="#3a3636"/>
<polygon points="144.3,450.4 146.9,451.1 145.0,452.3" fill="#a9a5a2"/>
<polygon points="140.9,424.0 142.5,423.9 141.9,425.6" fill="#a9a5a2"/>
<polygon points="110.3,406.2 112.3,408.6 108.8,408.5" fill="#3a3636"/>
<polygon points="119.2,478.0 121.4,476.5 122.2,478.5" fill="#a9a5a2"/>
<polygon points="102.2,456.8 101.3,457.8 100.9,456.6" fill="#2a2626"/>
<polygon points="131.0,446.4 132.7,445.4 132.7,447.5" fill="#a9a5a2"/>
<polygon points="89.0,447.1 87.9,448.5 87.2,446.9" fill="#3a3636"/>
<polygon points="97.2,469.9 98.3,467.7 100.0,469.8" fill="#bdb9b5"/>
<polygon points="151.6,447.6 154.0,447.4 152.7,449.6" fill="#a9a5a2"/>
<polygon points="115.2,412.8 112.5,413.5 113.7,410.7" fill="#8e8a88"/>
<polygon points="135.9,476.5 134.0,474.8 136.9,474.3" fill="#a9a5a2"/>
<polygon points="163.8,417.4 165.6,416.2 165.7,418.3" fill="#8e8a88"/>
<polygon points="132.1,462.8 132.1,464.8 130.3,463.8" fill="#bdb9b5"/>
<polygon points="112.8,422.9 114.1,423.5 112.7,424.2" fill="#2a2626"/>
<polygon points="93.0,444.8 92.4,447.1 90.9,445.7" fill="#a9a5a2"/>
<polygon points="161.6,429.9 160.3,430.3 160.5,428.9" fill="#8e8a88"/>
<polygon points="100.4,451.2 98.6,449.6 100.5,448.6" fill="#3a3636"/>
<polygon points="124.3,419.2 125.4,418.4 125.7,419.7" fill="#2a2626"/>
<polygon points="169.6,431.2 169.1,428.6 171.3,429.6" fill="#8e8a88"/>
<polygon points="115.6,414.7 113.6,412.7 116.0,411.5" fill="#bdb9b5"/>
<polygon points="140.8,420.2 140.6,421.7 139.2,420.8" fill="#d4d0cc"/>
<polygon points="168.6,404.8 166.2,406.5 166.5,403.3" fill="#a9a5a2"/>
<polygon points="129.8,406.0 131.0,407.4 129.2,407.9" fill="#bdb9b5"/>
<polygon points="121.7,437.0 120.9,438.6 119.9,437.2" fill="#767270"/>
<polygon points="110.4,477.1 113.1,477.5 111.3,479.7" fill="#a9a5a2"/>
<polygon points="150.0,461.3 150.4,459.6 151.6,460.6" fill="#a9a5a2"/>
<polygon points="123.7,461.6 121.9,464.0 120.9,461.3" fill="#3a3636"/>
<polygon points="136.5,470.0 134.3,468.2 136.8,467.6" fill="#a9a5a2"/>
<polygon points="169.2,468.2 170.2,467.2 170.3,469.0" fill="#d4d0cc"/>
<polygon points="140.3,445.0 140.7,446.2 139.5,446.0" fill="#2a2626"/>
<polygon points="138.7,438.9 139.4,440.7 137.1,440.9" fill="#a9a5a2"/>
<polygon points="165.8,439.0 166.1,437.7 167.3,438.4" fill="#8e8a88"/>
<polygon points="101.3,461.7 103.9,461.0 103.1,463.9" fill="#a9a5a2"/>
<polygon points="139.6,419.8 141.2,418.2 142.3,420.2" fill="#d4d0cc"/>
<polygon points="116.9,470.7 115.4,471.1 115.6,469.6" fill="#e2dedb"/>
<polygon points="146.9,468.0 146.1,470.3 144.5,468.2" fill="#3a3636"/>
<polygon points="100.7,442.5 103.9,442.3 102.4,444.4" fill="#bdb9b5"/>
<polygon points="115.1,460.7 117.4,458.8 117.8,461.6" fill="#3a3636"/>
<polygon points="136.3,468.1 139.2,467.0 139.3,469.1" fill="#767270"/>
<polygon points="168.9,444.6 171.5,444.5 170.0,446.4" fill="#bdb9b5"/>
<polygon points="169.8,428.6 171.0,427.0 171.8,428.8" fill="#bdb9b5"/>
<polygon points="98.0,451.2 96.8,450.7 97.7,450.1" fill="#767270"/>
<polygon points="103.8,414.0 103.4,412.7 105.0,412.9" fill="#bdb9b5"/>
<polygon points="112.2,405.7 110.7,404.7 112.2,403.8" fill="#a9a5a2"/>
<polygon points="113.9,471.3 114.1,473.0 112.3,472.6" fill="#bdb9b5"/>
<polygon points="109.4,420.9 110.0,423.0 107.9,422.2" fill="#767270"/>
<polygon points="131.3,409.2 130.4,411.7 128.6,409.9" fill="#8e8a88"/>
<polygon points="151.0,429.7 148.6,429.6 149.5,427.5" fill="#3a3636"/>
<polygon points="110.2,431.6 112.0,431.2 111.2,432.7" fill="#767270"/>
<polygon points="146.1,477.4 146.6,479.1 145.1,478.7" fill="#2a2626"/>
<polygon points="163.1,431.0 164.6,431.1 163.7,432.3" fill="#2a2626"/>
<polygon points="160.1,433.8 159.8,436.0 158.0,434.7" fill="#d4d0cc"/>
<polygon points="102.7,428.4 104.5,429.7 102.2,430.3" fill="#3a3636"/>
<polygon points="94.5,456.4 94.3,458.8 92.6,457.5" fill="#2a2626"/>
<polygon points="90.2,443.6 90.3,446.2 88.3,444.7" fill="#d4d0cc"/>
<polygon points="92.9,422.0 90.1,422.7 91.0,419.9" fill="#8e8a88"/>
<polygon points="138.5,483.8 136.0,483.2 138.0,481.3" fill="#d4d0cc"/>
<polygon points="169.2,429.4 169.7,431.9 166.4,430.6" fill="#bdb9b5"/>
<polygon points="92.0,432.6 92.6,430.6 94.8,431.9" fill="#e2dedb"/>
<polygon points="96.1,428.5 94.4,428.5 95.2,426.6" fill="#d4d0cc"/>
<polygon points="143.9,417.4 142.5,416.8 143.9,416.2" fill="#8e8a88"/>
<polygon points="175.9,456.0 173.0,455.7 175.2,453.5" fill="#2a2626"/>
<polygon points="177.1,460.0 175.8,459.2 177.0,458.2" fill="#bdb9b5"/>
<polygon points="166.9,404.2 168.7,402.5 169.1,405.7" fill="#767270"/>
<polygon points="139.5,422.9 137.7,422.3 139.3,420.9" fill="#e2dedb"/>
<polygon points="150.8,402.6 150.0,403.8 148.9,402.7" fill="#3a3636"/>
<polygon points="134.4,483.5 134.2,484.9 132.9,483.8" fill="#a9a5a2"/>
<polygon points="141.0,476.5 141.4,473.5 144.1,475.2" fill="#d4d0cc"/>
<polygon points="177.5,440.6 178.7,440.4 178.4,441.5" fill="#bdb9b5"/>
<polygon points="151.6,469.8 150.0,471.6 149.2,469.3" fill="#3a3636"/>
<polygon points="113.7,405.6 112.2,407.0 111.8,405.2" fill="#a9a5a2"/>
<polygon points="108.7,440.0 107.0,442.5 105.6,439.3" fill="#3a3636"/>
<polygon points="162.5,415.0 163.2,416.3 161.9,416.5" fill="#2a2626"/>
<polygon points="98.3,439.0 100.4,438.4 100.0,440.5" fill="#8e8a88"/>
<polygon points="146.6,448.1 147.8,449.8 145.7,449.9" fill="#a9a5a2"/>
<polygon points="107.9,433.4 108.6,435.6 106.5,435.5" fill="#a9a5a2"/>
<polygon points="151.7,432.7 153.2,432.6 152.6,433.9" fill="#bdb9b5"/>
<polygon points="133.3,440.5 132.5,441.5 132.2,439.9" fill="#8e8a88"/>
<polygon points="147.5,404.0 145.8,402.9 147.4,401.3" fill="#a9a5a2"/>
<polygon points="114.7,443.4 112.9,443.1 114.1,441.9" fill="#a9a5a2"/>
<polygon points="160.4,439.6 160.3,441.0 159.0,440.0" fill="#767270"/>
<polygon points="162.7,410.0 165.3,410.0 163.8,411.7" fill="#bdb9b5"/>
<polygon points="103.1,443.8 101.1,441.9 103.5,441.1" fill="#8e8a88"/>
<polygon points="116.8,438.1 116.7,436.4 118.6,437.0" fill="#3a3636"/>
<polygon points="123.9,428.6 125.7,428.2 124.9,429.8" fill="#a9a5a2"/>
<polygon points="125.7,466.9 125.1,468.0 124.4,467.1" fill="#bdb9b5"/>
<polygon points="171.7,432.1 173.8,431.1 173.7,432.9" fill="#3a3636"/>
<polygon points="140.0,483.7 140.8,485.1 139.0,485.0" fill="#e2dedb"/>
<polygon points="124.0,454.5 126.4,455.5 124.6,457.2" fill="#bdb9b5"/>
<polygon points="128.0,395.0 126.6,395.5 126.6,394.1" fill="#e2dedb"/>
<polygon points="144.0,394.3 142.5,395.7 142.1,393.9" fill="#bdb9b5"/>
<polygon points="109.3,441.4 111.8,442.3 109.4,444.1" fill="#3a3636"/>
<polygon points="103.0,446.5 102.3,447.4 101.7,446.4" fill="#8e8a88"/>
<polygon points="141.9,396.5 141.9,395.2 143.0,396.0" fill="#bdb9b5"/>
<polygon points="132.1,465.0 130.6,466.1 130.5,464.2" fill="#d4d0cc"/>
<polygon points="122.3,392.6 122.6,395.0 119.8,394.0" fill="#3a3636"/>
<polygon points="94.8,446.6 96.0,444.4 96.9,446.6" fill="#d4d0cc"/>
<polygon points="115.8,457.9 114.3,458.8 114.4,457.1" fill="#3a3636"/>
<polygon points="89.9,417.4 91.1,418.7 89.6,419.3" fill="#a9a5a2"/>
<polygon points="157.6,459.7 159.1,456.6 161.3,459.6" fill="#8e8a88"/>
<polygon points="106.8,421.8 105.2,422.2 105.7,420.7" fill="#a9a5a2"/>
<polygon points="172.6,447.2 173.6,445.5 174.2,447.4" fill="#a9a5a2"/>
<polygon points="126.5,460.8 125.5,462.1 125.0,460.4" fill="#bdb9b5"/>
<polygon points="124.4,417.8 122.7,419.7 121.5,417.7" fill="#bdb9b5"/>
<polygon points="144.8,445.7 144.2,444.1 145.6,444.4" fill="#d4d0cc"/>
<polygon points="167.9,434.8 165.6,433.6 167.9,431.9" fill="#2a2626"/>
<polygon points="100.6,471.7 100.6,472.8 99.4,472.2" fill="#2a2626"/>
<polygon points="167.9,452.8 170.3,454.2 167.9,455.6" fill="#a9a5a2"/>
<polygon points="145.7,425.4 144.3,425.6 145.0,424.2" fill="#767270"/>
<polygon points="160.9,400.8 162.3,402.1 160.1,402.5" fill="#3a3636"/>
<polygon points="161.9,424.6 161.0,425.8 160.2,424.5" fill="#8e8a88"/>
<polygon points="165.0,410.1 163.8,408.0 165.9,407.8" fill="#d4d0cc"/>
<polygon points="163.3,467.6 164.4,469.5 162.2,469.4" fill="#3a3636"/>
<polygon points="96.2,444.9 94.9,444.8 95.6,443.7" fill="#2a2626"/>
<polygon points="94.0,428.6 91.8,429.0 92.2,426.8" fill="#8e8a88"/>
<polygon points="110.7,446.0 113.1,445.7 112.3,447.5" fill="#bdb9b5"/>
<polygon points="153.0,436.8 151.2,437.8 151.3,435.3" fill="#d4d0cc"/>
<polygon points="178.9,431.7 178.6,429.8 180.6,430.4" fill="#d4d0cc"/>
<polygon points="128.6,393.0 127.4,393.0 127.9,392.0" fill="#8e8a88"/>
<polygon points="134.7,395.1 134.9,393.4 136.5,394.6" fill="#bdb9b5"/>
<polygon points="140.4,411.9 137.4,413.1 137.6,410.4" fill="#3a3636"/>
<polygon points="158.9,418.3 159.4,417.4 160.4,418.3" fill="#767270"/>
<polygon points="130.6,424.4 130.8,422.7 132.0,423.4" fill="#767270"/>
<polygon points="93.7,466.8 96.4,465.0 96.7,467.6" fill="#d4d0cc"/>
<polygon points="170.0,454.3 169.2,455.8 168.5,454.5" fill="#e2dedb"/>
<polygon points="131.8,473.7 134.0,476.0 131.1,476.4" fill="#767270"/>
<polygon points="154.8,450.8 152.5,450.5 153.9,448.4" fill="#8e8a88"/>
<polygon points="179.9,428.1 181.1,430.1 178.4,430.1" fill="#a9a5a2"/>
<polygon points="103.1,467.2 102.2,468.0 101.7,466.7" fill="#a9a5a2"/>
<polygon points="167.4,415.9 169.7,415.9 168.5,417.7" fill="#2a2626"/>
<polygon points="107.2,408.1 105.6,410.7 104.4,407.8" fill="#d4d0cc"/>
<polygon points="114.8,474.0 114.1,477.4 111.9,475.3" fill="#d4d0cc"/>
<polygon points="174.9,464.8 172.2,464.9 173.4,462.6" fill="#8e8a88"/>
<polygon points="126.6,420.1 126.1,422.5 124.5,421.0" fill="#3a3636"/>
<polygon points="114.4,428.3 116.1,428.3 115.2,429.9" fill="#e2dedb"/>
<polygon points="133.2,416.3 133.8,418.1 132.2,417.8" fill="#d4d0cc"/>
<polygon points="123.8,444.3 124.1,445.9 123.1,445.5" fill="#3a3636"/>
<polygon points="99.8,423.5 98.9,424.2 98.6,423.0" fill="#2a2626"/>
<polygon points="128.8,458.5 130.4,459.5 128.6,460.5" fill="#2a2626"/>
<polygon points="156.0,454.0 154.3,453.4 155.9,452.0" fill="#3a3636"/>
<polygon points="148.2,410.7 147.6,413.3 145.5,411.9" fill="#8e8a88"/>
<polygon points="146.8,426.8 146.3,429.8 144.4,428.1" fill="#a9a5a2"/>
<polygon points="91.7,452.9 93.0,455.0 90.4,454.7" fill="#d4d0cc"/>
<polygon points="142.0,468.5 143.6,468.6 142.3,469.9" fill="#bdb9b5"/>
<polygon points="104.8,459.1 107.0,461.0 103.5,461.5" fill="#3a3636"/>
<polygon points="134.3,434.1 132.3,432.2 134.3,431.2" fill="#bdb9b5"/>
<polygon points="169.7,409.3 172.9,408.2 172.2,411.4" fill="#a9a5a2"/>
<polygon points="172.3,429.0 172.8,430.7 170.7,430.2" fill="#3a3636"/>
<polygon points="155.0,421.1 152.6,422.4 152.2,419.9" fill="#a9a5a2"/>
<polygon points="120.9,411.3 118.5,409.5 121.0,408.7" fill="#bdb9b5"/>
<polygon points="147.6,437.4 148.4,439.5 146.1,439.0" fill="#a9a5a2"/>
<polygon points="136.0,482.1 138.1,482.2 137.1,483.7" fill="#2a2626"/>
<polygon points="171.2,462.9 170.1,465.3 169.1,462.8" fill="#d4d0cc"/>
<polygon points="118.0,393.1 120.2,392.2 119.8,395.2" fill="#3a3636"/>
<polygon points="105.7,434.6 107.9,436.5 104.5,437.1" fill="#3a3636"/>
<polygon points="124.8,439.6 124.4,441.2 122.8,440.2" fill="#bdb9b5"/>
<polygon points="147.8,415.8 148.4,417.7 146.2,417.2" fill="#d4d0cc"/>
<polygon points="155.8,467.1 155.9,465.0 157.7,465.9" fill="#2a2626"/>
<polygon points="117.9,437.4 118.9,437.1 118.5,438.6" fill="#d4d0cc"/>
<polygon points="133.6,439.0 132.8,440.1 132.3,438.7" fill="#a9a5a2"/>
<polygon points="120.1,447.0 121.0,448.6 119.4,449.1" fill="#8e8a88"/>
<polygon points="158.0,398.3 159.7,399.4 157.5,400.7" fill="#767270"/>
<polygon points="109.2,460.1 110.6,460.3 109.8,461.4" fill="#d4d0cc"/>
<polygon points="112.4,418.0 111.6,421.2 109.4,418.5" fill="#e2dedb"/>
<polygon points="127.9,392.7 128.3,394.3 126.7,394.2" fill="#bdb9b5"/>
<polygon points="140.9,435.6 143.5,435.2 142.6,437.3" fill="#bdb9b5"/>
<polygon points="105.9,468.7 106.7,467.8 107.4,468.9" fill="#bdb9b5"/>
<polygon points="124.6,411.3 126.5,413.0 124.1,413.9" fill="#a9a5a2"/>
<polygon points="163.0,439.3 164.1,438.5 164.3,439.9" fill="#2a2626"/>
<polygon points="125.6,483.9 125.3,482.5 127.1,483.0" fill="#8e8a88"/>
<polygon points="151.8,438.6 150.4,440.5 149.1,438.6" fill="#3a3636"/>
<polygon points="101.9,435.7 98.7,436.0 99.5,433.1" fill="#e2dedb"/>
<polygon points="170.1,468.8 169.7,466.7 171.7,467.3" fill="#bdb9b5"/>
<polygon points="141.8,437.8 140.9,436.6 142.2,436.4" fill="#e2dedb"/>
<polygon points="154.0,413.7 151.5,415.4 152.0,412.6" fill="#bdb9b5"/>
<polygon points="143.9,394.1 144.8,396.2 142.5,396.1" fill="#767270"/>
<polygon points="167.4,462.2 166.0,465.2 164.7,462.7" fill="#e2dedb"/>
<polygon points="101.5,470.1 100.4,471.1 100.1,469.6" fill="#8e8a88"/>
<polygon points="133.2,410.0 132.6,412.2 130.8,410.2" fill="#3a3636"/>
<polygon points="135.3,420.5 137.5,418.9 138.0,421.6" fill="#2a2626"/>
<polygon points="108.9,424.4 106.1,423.7 108.3,421.7" fill="#2a2626"/>
<polygon points="121.5,394.1 121.3,395.2 120.2,394.3" fill="#3a3636"/>
<polygon points="125.2,404.2 127.3,403.5 127.0,405.8" fill="#d4d0cc"/>
<polygon points="101.2,426.3 98.7,429.0 97.9,425.7" fill="#bdb9b5"/>
<polygon points="106.5,449.3 107.6,451.6 105.2,451.5" fill="#3a3636"/>
<polygon points="116.5,443.4 114.8,445.5 114.1,443.0" fill="#8e8a88"/>
<polygon points="122.5,473.1 124.7,475.0 122.4,476.7" fill="#bdb9b5"/>
<polygon points="159.7,432.0 158.4,432.4 158.6,431.0" fill="#3a3636"/>
<polygon points="144.0,473.8 142.6,471.9 145.2,471.6" fill="#2a2626"/>
<polygon points="117.0,437.8 116.0,435.5 118.7,436.1" fill="#8e8a88"/>
<polygon points="139.2,468.2 140.4,468.9 139.4,469.4" fill="#bdb9b5"/>
<polygon points="138.7,411.6 139.6,414.0 137.1,413.5" fill="#a9a5a2"/>
<polygon points="143.5,419.6 141.8,418.3 143.5,417.7" fill="#3a3636"/>
<polygon points="128.5,483.0 130.7,485.3 127.4,485.7" fill="#3a3636"/>
<polygon points="165.5,428.6 166.1,427.4 167.1,428.3" fill="#e2dedb"/>
<polygon points="108.4,460.7 110.2,461.8 108.1,463.1" fill="#d4d0cc"/>
<polygon points="150.0,420.3 148.4,418.6 150.3,418.0" fill="#767270"/>
<polygon points="159.2,419.2 159.5,417.6 160.3,418.6" fill="#bdb9b5"/>
<polygon points="117.6,409.7 116.9,407.7 119.1,408.2" fill="#3a3636"/>
<polygon points="133.0,455.3 136.0,456.4 133.2,458.1" fill="#8e8a88"/>
<polygon points="176.0,419.5 174.3,419.0 175.5,417.6" fill="#3a3636"/>
<polygon points="110.3,465.4 113.1,466.3 110.5,467.4" fill="#e2dedb"/>
<polygon points="166.7,402.1 165.3,402.6 165.4,401.2" fill="#a9a5a2"/>
<polygon points="108.3,423.6 109.7,423.8 108.7,425.0" fill="#bdb9b5"/>
<polygon points="101.9,442.7 100.9,445.0 99.8,442.9" fill="#8e8a88"/>
<polygon points="108.7,438.1 107.2,439.8 106.0,437.7" fill="#a9a5a2"/>
<polygon points="123.7,441.9 126.4,441.7 124.8,444.1" fill="#8e8a88"/>
<polygon points="87.4,437.1 89.1,438.7 86.8,439.2" fill="#8e8a88"/>
<polygon points="148.0,416.2 148.8,418.6 146.2,418.0" fill="#8e8a88"/>
<polygon points="107.6,443.9 109.4,441.7 110.2,444.4" fill="#d4d0cc"/>
<polygon points="125.6,397.4 126.0,399.8 124.4,399.2" fill="#e2dedb"/>
<polygon points="121.5,454.0 118.4,453.7 120.4,451.7" fill="#767270"/>
<polygon points="107.7,419.3 108.8,419.8 107.8,420.7" fill="#bdb9b5"/>
<polygon points="144.3,479.7 143.8,478.5 145.6,478.7" fill="#d4d0cc"/>
<polygon points="132.4,400.4 133.0,401.9 130.9,401.7" fill="#767270"/>
<polygon points="140.1,445.9 139.8,444.4 141.1,445.0" fill="#a9a5a2"/>
<polygon points="147.0,419.8 147.7,421.4 145.6,421.0" fill="#3a3636"/>
<polygon points="101.5,410.2 102.1,411.7 100.6,411.4" fill="#d4d0cc"/>
<polygon points="139.0,403.0 137.0,402.7 138.5,400.8" fill="#3a3636"/>
<polygon points="104.6,408.7 103.5,407.5 105.1,407.2" fill="#8e8a88"/>
<polygon points="156.8,456.6 157.4,458.1 155.5,457.8" fill="#d4d0cc"/>
<polygon points="116.9,425.0 114.8,424.3 117.1,423.2" fill="#2a2626"/>
<polygon points="113.3,400.5 112.1,400.2 113.1,399.5" fill="#a9a5a2"/>
<polygon points="157.2,464.2 158.8,463.2 158.8,465.0" fill="#bdb9b5"/>
<polygon points="160.9,472.2 159.4,470.1 162.0,469.7" fill="#3a3636"/>
<polygon points="138.3,393.1 140.9,391.8 140.7,394.4" fill="#767270"/>
<polygon points="109.9,449.6 111.2,452.0 108.6,452.0" fill="#3a3636"/>
<polygon points="122.1,418.2 119.8,417.9 121.2,415.7" fill="#3a3636"/>
<polygon points="137.0,452.3 136.0,454.6 133.9,452.5" fill="#e2dedb"/>
<polygon points="113.6,442.0 113.0,439.7 115.0,440.8" fill="#a9a5a2"/>
<polygon points="140.5,442.8 141.4,441.5 142.1,442.9" fill="#a9a5a2"/>
<polygon points="162.3,416.7 163.6,417.5 162.3,418.4" fill="#e2dedb"/>
<polygon points="122.4,412.3 122.6,410.4 124.2,411.5" fill="#bdb9b5"/>
<polygon points="117.6,417.2 116.7,416.6 117.5,415.6" fill="#d4d0cc"/>
<polygon points="120.5,484.1 122.4,482.0 123.3,485.0" fill="#767270"/>
<polygon points="159.2,478.4 159.5,477.1 160.9,477.8" fill="#3a3636"/>
<polygon points="151.6,454.7 151.1,452.9 153.0,453.4" fill="#8e8a88"/>
<polygon points="166.9,441.1 168.3,438.9 169.3,441.1" fill="#8e8a88"/>
<polygon points="160.0,421.9 158.0,422.8 158.1,421.0" fill="#3a3636"/>
<polygon points="144.5,472.1 143.6,470.2 145.4,470.2" fill="#bdb9b5"/>
<polygon points="99.5,425.3 100.6,427.5 98.4,427.9" fill="#a9a5a2"/>
<polygon points="178.8,424.4 177.8,425.3 177.6,424.0" fill="#3a3636"/>
<polygon points="98.3,417.8 96.2,416.3 99.0,415.7" fill="#d4d0cc"/>
<polygon points="155.9,429.5 153.4,430.9 153.1,428.6" fill="#bdb9b5"/>
<polygon points="114.4,403.8 111.7,405.0 111.9,402.7" fill="#767270"/>
<polygon points="106.4,458.8 104.4,458.3 105.9,456.8" fill="#767270"/>
<polygon points="163.8,445.5 164.0,447.6 162.4,446.9" fill="#bdb9b5"/>
<polygon points="131.5,477.6 130.4,475.3 132.7,475.2" fill="#e2dedb"/>
<polygon points="157.3,469.7 159.5,469.0 159.0,470.8" fill="#3a3636"/>
<polygon points="118.5,395.6 118.4,394.1 119.3,394.9" fill="#a9a5a2"/>
<polygon points="149.9,457.8 151.8,458.0 150.8,459.8" fill="#8e8a88"/>
<polygon points="130.7,428.1 128.6,428.1 129.9,426.3" fill="#3a3636"/>
<polygon points="170.8,430.9 168.8,433.7 167.4,430.6" fill="#d4d0cc"/>
<polygon points="179.1,418.9 178.1,421.7 176.1,419.8" fill="#2a2626"/>
<polygon points="94.8,443.5 93.0,443.9 93.6,442.4" fill="#d4d0cc"/>
<polygon points="163.8,423.6 161.5,424.6 161.5,422.6" fill="#d4d0cc"/>
<polygon points="103.5,401.9 105.2,403.9 102.0,404.5" fill="#2a2626"/>
<polygon points="163.1,415.9 163.5,413.3 165.1,415.0" fill="#8e8a88"/>
<polygon points="134.1,476.9 135.5,474.6 136.3,476.9" fill="#767270"/>
<polygon points="117.8,402.5 117.6,400.0 119.8,401.1" fill="#767270"/>
<polygon points="168.7,419.3 167.9,420.9 167.3,419.3" fill="#767270"/>
<polygon points="117.6,428.6 118.8,427.2 119.4,429.0" fill="#3a3636"/>
<polygon points="141.5,399.7 141.0,397.4 143.8,397.8" fill="#bdb9b5"/>
<polygon points="177.1,432.5 179.3,431.9 178.8,434.1" fill="#d4d0cc"/>
<polygon points="129.7,448.7 131.4,450.6 128.6,451.1" fill="#a9a5a2"/>
<polygon points="142.0,446.4 144.0,447.9 141.7,448.8" fill="#2a2626"/>
<polygon points="170.4,422.3 170.0,419.4 172.8,420.5" fill="#bdb9b5"/>
<polygon points="153.7,473.7 156.6,474.5 154.3,476.4" fill="#3a3636"/>
<polygon points="116.2,416.4 117.0,414.9 118.2,416.0" fill="#a9a5a2"/>
<polygon points="105.8,434.8 104.5,434.0 105.5,433.0" fill="#a9a5a2"/>
<polygon points="135.8,441.2 134.1,441.2 135.1,439.9" fill="#3a3636"/>
<polygon points="148.9,456.8 146.6,456.8 147.8,454.9" fill="#bdb9b5"/>
<polygon points="102.6,438.2 101.9,436.6 103.3,436.7" fill="#bdb9b5"/>
<polygon points="132.9,389.8 136.0,391.9 132.9,393.1" fill="#2a2626"/>
<polygon points="172.0,454.5 171.8,456.3 170.4,455.3" fill="#8e8a88"/>
<polygon points="127.7,476.8 129.1,476.9 128.4,478.1" fill="#e2dedb"/>
<polygon points="176.6,458.8 177.2,457.5 177.9,458.7" fill="#a9a5a2"/>
<polygon points="150.1,419.5 147.2,420.3 147.9,417.6" fill="#767270"/>
<polygon points="114.3,393.8 115.8,394.5 114.5,395.6" fill="#bdb9b5"/>
<polygon points="95.0,441.2 94.4,438.0 97.4,439.3" fill="#767270"/>
<polygon points="108.6,478.8 109.2,477.6 109.9,478.4" fill="#bdb9b5"/>
<polygon points="168.0,419.5 168.6,421.6 166.2,421.1" fill="#3a3636"/>
<polygon points="138.5,477.9 138.8,479.9 136.4,479.3" fill="#bdb9b5"/>
<polygon points="144.1,420.8 143.1,418.4 145.5,418.7" fill="#d4d0cc"/>
<polygon points="116.7,409.1 119.0,409.5 117.2,411.5" fill="#3a3636"/>
<polygon points="148.6,399.0 149.5,400.1 148.4,400.3" fill="#2a2626"/>
<polygon points="122.4,444.2 121.7,446.3 120.5,444.7" fill="#2a2626"/>
<polygon points="105.9,471.1 106.7,468.6 108.6,470.6" fill="#8e8a88"/>
<polygon points="178.9,436.6 181.1,435.7 180.5,438.0" fill="#3a3636"/>
<polygon points="164.7,431.4 162.3,432.9 162.1,430.1" fill="#a9a5a2"/>
<polygon points="176.1,455.9 173.9,455.1 175.8,453.5" fill="#d4d0cc"/>
<polygon points="136.9,449.4 135.5,451.2 134.7,449.0" fill="#767270"/>
<polygon points="92.7,410.3 95.4,408.6 95.6,411.4" fill="#8e8a88"/>
<polygon points="133.9,418.6 132.5,416.6 134.8,416.3" fill="#a9a5a2"/>
<polygon points="143.4,445.0 141.2,443.1 143.3,441.7" fill="#bdb9b5"/>
<polygon points="144.6,423.6 144.9,424.9 143.6,424.7" fill="#e2dedb"/>
<polygon points="135.6,392.3 135.5,395.1 133.5,393.1" fill="#d4d0cc"/>
<polygon points="120.7,463.5 119.6,462.5 121.0,462.0" fill="#3a3636"/>
<polygon points="135.9,470.4 135.5,473.3 133.5,471.3" fill="#d4d0cc"/>
<polygon points="164.4,422.2 167.3,422.6 166.1,425.3" fill="#767270"/>
<polygon points="166.1,434.0 162.9,434.2 164.1,431.8" fill="#e2dedb"/>
<polygon points="115.0,475.0 117.2,473.5 117.6,476.1" fill="#a9a5a2"/>
<polygon points="128.2,455.5 128.4,456.7 126.9,456.2" fill="#e2dedb"/>
<polygon points="144.1,431.6 143.1,429.5 145.6,429.5" fill="#a9a5a2"/>
<polygon points="156.3,455.0 155.1,456.6 154.6,454.8" fill="#bdb9b5"/>
<polygon points="175.4,413.1 173.7,412.6 175.1,411.6" fill="#3a3636"/>
<polygon points="155.6,423.4 155.4,425.4 154.1,424.2" fill="#2a2626"/>
<polygon points="162.5,434.5 162.2,432.2 163.8,432.9" fill="#a9a5a2"/>
<polygon points="169.4,410.4 171.7,410.3 170.5,412.9" fill="#2a2626"/>
<polygon points="130.7,453.6 128.8,453.3 129.9,451.6" fill="#a9a5a2"/>
<polygon points="177.6,420.4 177.1,421.6 175.8,420.8" fill="#8e8a88"/>
<polygon points="96.4,425.5 94.9,425.5 95.7,424.0" fill="#3a3636"/>
<polygon points="112.7,467.8 110.9,466.6 112.8,465.9" fill="#8e8a88"/>
<polygon points="131.7,397.8 134.0,396.9 133.4,399.1" fill="#8e8a88"/>
<polygon points="90.7,451.4 92.9,451.7 91.2,453.2" fill="#8e8a88"/>
<polygon points="138.7,462.7 141.3,461.1 140.8,464.8" fill="#bdb9b5"/>
<polygon points="121.3,422.7 120.3,424.1 119.3,422.4" fill="#3a3636"/>
<polygon points="165.7,445.7 163.5,445.6 164.9,443.5" fill="#d4d0cc"/>
<polygon points="129.1,415.1 130.5,414.5 130.6,416.0" fill="#3a3636"/>
<polygon points="169.5,418.0 171.1,415.9 171.7,418.1" fill="#bdb9b5"/>
<polygon points="107.2,451.9 109.0,452.2 107.9,454.2" fill="#2a2626"/>
<polygon points="124.6,463.0 126.2,460.3 127.5,463.0" fill="#bdb9b5"/>
<polygon points="127.5,459.5 128.9,456.8 130.0,459.5" fill="#a9a5a2"/>
<polygon points="167.3,428.7 164.5,429.6 164.9,427.4" fill="#3a3636"/>
<polygon points="115.3,423.9 116.8,426.1 114.2,426.1" fill="#bdb9b5"/>
<polygon points="155.2,448.8 157.7,448.7 156.8,451.0" fill="#a9a5a2"/>
<polygon points="100.7,458.7 101.2,461.4 98.4,460.1" fill="#3a3636"/>
<polygon points="95.9,423.7 94.3,423.7 95.3,422.1" fill="#bdb9b5"/>
<polygon points="108.1,425.4 108.6,428.8 106.4,427.5" fill="#a9a5a2"/>
<polygon points="147.7,395.0 145.7,394.3 147.4,393.1" fill="#767270"/>
<polygon points="167.1,446.2 168.4,446.6 167.3,447.6" fill="#d4d0cc"/>
<polygon points="133.4,443.6 131.6,444.2 132.5,441.8" fill="#3a3636"/>
<polygon points="166.8,463.5 166.3,460.7 169.2,462.3" fill="#d4d0cc"/>
<polygon points="136.4,426.8 134.3,425.5 136.5,424.4" fill="#3a3636"/>
<polygon points="141.8,468.8 143.3,468.9 142.7,470.3" fill="#bdb9b5"/>
<polygon points="156.4,436.7 155.9,438.3 154.5,437.2" fill="#8e8a88"/>
<polygon points="144.3,407.7 143.5,405.9 144.9,405.7" fill="#3a3636"/>
<polygon points="116.3,482.1 118.7,480.3 118.5,483.8" fill="#bdb9b5"/>
<polygon points="86.9,440.0 88.2,438.4 88.6,440.4" fill="#2a2626"/>
<polygon points="115.4,409.8 114.0,409.5 114.8,408.5" fill="#8e8a88"/>
<polygon points="130.7,453.3 129.6,451.0 132.0,450.6" fill="#e2dedb"/>
<polygon points="153.1,426.7 152.4,428.6 151.1,427.0" fill="#bdb9b5"/>
<polygon points="132.7,416.2 132.2,417.6 131.2,416.7" fill="#8e8a88"/>
<polygon points="129.3,444.9 127.1,443.8 129.9,442.9" fill="#a9a5a2"/>
<polygon points="122.0,428.0 123.1,426.8 123.8,428.2" fill="#8e8a88"/>
<polygon points="113.7,451.3 110.7,450.4 113.0,448.4" fill="#a9a5a2"/>
<polygon points="163.0,471.6 162.1,472.8 161.5,471.4" fill="#767270"/>
<polygon points="95.6,432.7 97.0,430.3 98.3,432.4" fill="#3a3636"/>
<polygon points="137.7,421.5 138.6,424.7 136.0,423.8" fill="#8e8a88"/>
<polygon points="139.9,482.1 142.5,482.6 140.9,485.3" fill="#767270"/>
<polygon points="161.0,417.8 163.0,415.5 164.3,418.7" fill="#3a3636"/>
<polygon points="134.4,424.2 134.3,425.4 133.0,424.5" fill="#8e8a88"/>
<polygon points="168.1,457.0 167.4,454.4 169.8,455.3" fill="#8e8a88"/>
<polygon points="135.6,420.4 136.6,421.2 135.5,421.9" fill="#3a3636"/>
<polygon points="127.3,391.8 126.9,393.4 125.9,392.2" fill="#8e8a88"/>
<polygon points="113.0,472.9 114.4,473.6 112.9,474.5" fill="#3a3636"/>
<polygon points="122.6,467.5 121.3,465.2 124.6,465.5" fill="#3a3636"/>
<polygon points="138.7,452.3 139.1,449.4 141.3,451.0" fill="#8e8a88"/>
<polygon points="141.5,395.3 140.3,395.7 140.4,394.6" fill="#bdb9b5"/>
<polygon points="118.4,483.3 118.3,481.5 120.0,482.0" fill="#a9a5a2"/>
<polygon points="144.5,457.9 144.2,460.0 141.9,458.6" fill="#2a2626"/>
<polygon points="134.7,398.8 136.1,397.8 136.7,399.2" fill="#d4d0cc"/>
<polygon points="115.6,409.9 116.1,412.0 114.2,411.5" fill="#3a3636"/>
<polygon points="157.4,458.1 155.8,459.9 155.4,457.4" fill="#767270"/>
<polygon points="139.4,416.7 137.9,416.2 139.2,415.1" fill="#8e8a88"/>
<polygon points="163.5,476.1 164.3,474.8 165.2,475.9" fill="#a9a5a2"/>
<polygon points="121.4,437.3 124.0,435.8 123.9,438.4" fill="#8e8a88"/>
<polygon points="166.4,447.3 167.6,449.4 165.8,449.8" fill="#a9a5a2"/>
<polygon points="90.9,456.4 90.6,454.0 93.4,454.9" fill="#bdb9b5"/>
<polygon points="146.3,403.6 148.0,404.4 146.2,405.4" fill="#bdb9b5"/>
<polygon points="167.3,410.5 168.1,408.0 170.2,410.0" fill="#8e8a88"/>
<polygon points="160.1,415.3 160.4,418.3 158.2,417.1" fill="#a9a5a2"/>
<polygon points="154.7,396.3 157.3,394.3 157.5,397.8" fill="#3a3636"/>
<polygon points="103.7,448.6 101.6,447.0 104.1,446.1" fill="#3a3636"/>
<polygon points="95.5,429.0 96.8,428.8 96.2,430.3" fill="#3a3636"/>
<polygon points="162.2,461.2 163.6,459.3 164.1,461.5" fill="#bdb9b5"/>
<polygon points="89.0,432.4 88.6,433.5 87.4,432.7" fill="#8e8a88"/>
<polygon points="151.1,467.8 150.2,468.8 149.8,467.5" fill="#3a3636"/>
<polygon points="135.5,446.5 135.9,448.7 134.0,448.4" fill="#a9a5a2"/>
<polygon points="157.9,400.1 156.7,401.8 155.7,399.9" fill="#8e8a88"/>
<polygon points="122.9,403.1 123.7,404.1 122.5,404.2" fill="#bdb9b5"/>
<polygon points="108.8,405.9 112.3,406.9 109.8,409.0" fill="#d4d0cc"/>
<polygon points="120.8,393.7 120.0,395.4 119.2,393.7" fill="#8e8a88"/>
<polygon points="130.7,468.9 132.6,466.6 133.1,469.7" fill="#8e8a88"/>
<polygon points="95.4,464.8 95.4,466.8 93.4,465.7" fill="#8e8a88"/>
<polygon points="125.8,442.3 126.0,444.0 123.8,443.4" fill="#8e8a88"/>
<polygon points="168.7,448.7 169.6,449.6 168.1,449.9" fill="#8e8a88"/>
<polygon points="112.5,445.2 113.6,445.8 112.5,446.6" fill="#3a3636"/>
<polygon points="129.3,463.9 129.4,465.9 127.8,465.1" fill="#bdb9b5"/>
<polygon points="150.5,444.2 150.4,442.7 151.7,443.4" fill="#8e8a88"/>
<polygon points="115.0,455.8 112.7,454.4 115.1,453.1" fill="#2a2626"/>
<polygon points="117.7,481.1 120.2,481.8 118.3,483.4" fill="#8e8a88"/>
<polygon points="127.4,448.8 128.2,450.1 126.7,450.3" fill="#2a2626"/>
<polygon points="163.5,430.0 161.5,430.0 162.8,428.3" fill="#e2dedb"/>
<polygon points="126.5,391.6 123.5,393.0 123.8,390.2" fill="#a9a5a2"/>
<polygon points="168.5,430.0 168.4,428.2 170.2,429.0" fill="#bdb9b5"/>
<polygon points="95.5,432.4 95.8,434.7 93.4,434.0" fill="#bdb9b5"/>
<polygon points="103.3,418.0 104.2,419.3 102.7,419.4" fill="#d4d0cc"/>
<polygon points="158.7,469.9 156.2,470.3 157.4,467.4" fill="#3a3636"/>
<polygon points="172.5,445.9 170.5,448.0 169.3,445.4" fill="#d4d0cc"/>
<polygon points="92.7,423.2 91.1,425.7 89.9,422.5" fill="#2a2626"/>
<polygon points="149.5,426.2 151.7,424.2 151.9,427.7" fill="#2a2626"/>
<polygon points="155.1,416.5 157.2,416.6 156.0,418.0" fill="#bdb9b5"/>
<polygon points="141.9,433.8 139.8,433.3 141.3,432.1" fill="#767270"/>
<polygon points="146.0,478.5 144.2,477.2 146.4,476.5" fill="#2a2626"/>
<polygon points="163.3,441.1 162.6,442.4 161.9,441.4" fill="#bdb9b5"/>
<polygon points="128.9,475.9 128.0,474.9 129.1,474.4" fill="#a9a5a2"/>
<polygon points="90.9,447.5 89.2,446.6 90.6,445.5" fill="#bdb9b5"/>
<polygon points="172.6,425.0 171.2,424.5 172.3,423.5" fill="#a9a5a2"/>
<polygon points="143.4,403.7 142.0,405.6 141.5,403.0" fill="#767270"/>
<polygon points="134.0,457.1 135.9,458.9 132.8,459.0" fill="#a9a5a2"/>
<polygon points="129.5,463.5 131.3,465.1 128.8,465.9" fill="#e2dedb"/>
<polygon points="119.1,402.3 119.8,400.1 120.9,402.0" fill="#a9a5a2"/>
<polygon points="111.7,397.6 110.0,395.0 113.3,394.9" fill="#767270"/>
<polygon points="167.6,453.2 169.9,455.2 167.0,455.8" fill="#8e8a88"/>
<polygon points="131.5,464.3 130.0,464.1 131.0,462.8" fill="#a9a5a2"/>
<polygon points="170.4,459.0 173.2,458.1 172.6,460.9" fill="#8e8a88"/>
<polygon points="168.7,426.9 167.4,424.7 170.9,424.9" fill="#767270"/>
<polygon points="95.6,454.6 94.5,455.4 94.7,453.7" fill="#bdb9b5"/>
<polygon points="123.3,443.1 121.0,442.6 122.5,440.7" fill="#8e8a88"/>
<polygon points="151.9,475.6 154.2,473.6 154.5,476.1" fill="#d4d0cc"/>
<polygon points="169.3,412.8 166.8,413.3 167.4,411.0" fill="#8e8a88"/>
<polygon points="121.7,442.6 121.0,439.8 123.5,440.4" fill="#a9a5a2"/>
<polygon points="112.4,447.4 110.4,448.4 110.8,446.2" fill="#a9a5a2"/>
<polygon points="150.6,469.4 148.0,467.8 150.5,466.5" fill="#e2dedb"/>
<polygon points="148.8,392.1 146.9,394.5 145.5,391.8" fill="#d4d0cc"/>
<polygon points="111.3,430.1 112.8,430.6 111.6,432.1" fill="#2a2626"/>
<polygon points="172.0,453.2 173.9,452.8 173.2,455.4" fill="#3a3636"/>
<polygon points="128.9,451.4 129.9,454.7 126.2,454.0" fill="#3a3636"/>
<polygon points="101.9,434.4 102.6,430.9 104.2,433.6" fill="#8e8a88"/>
<polygon points="100.1,436.5 96.9,436.3 98.9,434.0" fill="#2a2626"/>
<polygon points="173.2,444.6 170.4,446.4 170.0,443.2" fill="#767270"/>
<polygon points="170.4,455.2 171.6,454.3 171.7,455.9" fill="#bdb9b5"/>
<polygon points="157.0,479.8 154.6,479.8 155.8,477.6" fill="#d4d0cc"/>
<polygon points="111.9,471.2 113.4,470.4 113.4,472.3" fill="#e2dedb"/>
<polygon points="118.3,434.7 118.7,435.8 117.5,435.6" fill="#a9a5a2"/>
<polygon points="100.1,442.7 98.3,443.1 99.0,441.1" fill="#8e8a88"/>
<polygon points="171.4,431.0 172.6,429.7 172.9,431.8" fill="#d4d0cc"/>
<polygon points="93.3,422.8 95.1,422.9 94.0,424.0" fill="#a9a5a2"/>
<polygon points="110.4,409.2 112.9,407.9 113.5,410.8" fill="#d4d0cc"/>
<polygon points="150.3,441.2 150.8,442.4 149.4,442.2" fill="#d4d0cc"/>
<polygon points="124.7,397.3 126.7,395.5 127.5,398.4" fill="#8e8a88"/>
<polygon points="171.9,412.5 174.7,412.7 172.7,414.8" fill="#d4d0cc"/>
<polygon points="165.1,470.3 164.6,471.1 163.8,470.2" fill="#3a3636"/>
<polygon points="115.8,408.9 115.9,411.0 114.1,409.9" fill="#d4d0cc"/>
<polygon points="134.2,393.3 133.6,391.7 135.2,391.9" fill="#8e8a88"/>
<polygon points="127.8,478.1 128.3,481.0 125.7,479.8" fill="#bdb9b5"/>
<polygon points="155.2,403.2 156.7,404.6 155.0,405.2" fill="#8e8a88"/>
<polygon points="104.6,422.6 106.3,421.5 106.3,423.3" fill="#8e8a88"/>
<polygon points="135.1,475.7 133.6,478.3 132.5,475.9" fill="#bdb9b5"/>
<polygon points="93.2,457.0 95.3,456.6 94.6,459.1" fill="#3a3636"/>
<polygon points="97.6,428.2 96.2,427.6 97.7,426.8" fill="#8e8a88"/>
<polygon points="101.4,417.4 101.2,415.0 103.3,416.3" fill="#3a3636"/>
<polygon points="126.3,474.2 125.4,473.1 126.7,472.6" fill="#767270"/>
<polygon points="136.6,471.5 137.7,473.1 135.8,473.2" fill="#3a3636"/>
<polygon points="113.5,450.6 111.7,450.2 112.9,448.4" fill="#e2dedb"/>
<polygon points="95.0,450.7 93.5,452.0 92.8,450.3" fill="#2a2626"/>
<polygon points="152.1,429.7 153.4,429.0 153.4,430.2" fill="#bdb9b5"/>
<polygon points="134.8,452.3 136.1,453.3 134.6,453.7" fill="#bdb9b5"/>
<polygon points="104.5,475.5 104.0,476.8 103.1,475.6" fill="#d4d0cc"/>
<polygon points="121.8,468.8 119.8,471.3 118.6,468.7" fill="#2a2626"/>
<polygon points="180.9,441.4 178.5,441.5 179.6,439.8" fill="#2a2626"/>
<polygon points="102.1,453.3 104.5,452.3 104.4,454.8" fill="#bdb9b5"/>
<polygon points="109.7,445.7 110.2,446.6 108.9,446.6" fill="#2a2626"/>
<polygon points="99.8,414.7 98.0,413.1 100.4,412.4" fill="#8e8a88"/>
<polygon points="93.0,442.3 95.8,441.5 94.5,444.2" fill="#bdb9b5"/>
<polygon points="97.9,442.1 101.8,442.1 99.7,444.5" fill="#a9a5a2"/>
<polygon points="136.5,401.6 135.5,402.0 135.7,400.7" fill="#d4d0cc"/>
<polygon points="151.0,445.4 150.1,446.8 149.4,445.5" fill="#e2dedb"/>
<polygon points="132.8,407.1 132.4,409.7 130.9,407.6" fill="#d4d0cc"/>
<polygon points="171.8,433.5 172.2,435.9 169.7,435.0" fill="#d4d0cc"/>
<polygon points="99.9,415.3 98.2,412.6 101.0,412.4" fill="#8e8a88"/>
<polygon points="92.9,417.3 92.9,415.5 94.1,416.5" fill="#767270"/>
<polygon points="140.1,426.3 141.1,424.8 141.7,426.4" fill="#3a3636"/>
<polygon points="127.9,460.5 128.4,461.8 127.2,461.5" fill="#a9a5a2"/>
<polygon points="105.1,430.6 106.5,431.1 105.5,432.1" fill="#a9a5a2"/>
<polygon points="146.4,398.6 148.0,398.6 147.5,400.0" fill="#3a3636"/>
<polygon points="124.2,452.3 122.5,450.5 125.0,449.9" fill="#bdb9b5"/>
<polygon points="174.4,440.3 172.2,441.2 172.1,439.0" fill="#767270"/>
<polygon points="106.1,472.2 108.0,473.3 106.2,474.1" fill="#bdb9b5"/>
<polygon points="116.4,475.7 117.8,477.1 115.8,477.6" fill="#2a2626"/>
<polygon points="116.8,434.7 114.2,433.1 116.4,431.7" fill="#3a3636"/>
<polygon points="134.4,401.6 132.4,402.0 133.1,399.5" fill="#d4d0cc"/>
<polygon points="130.1,458.8 130.9,460.7 128.9,460.6" fill="#8e8a88"/>
<polygon points="148.5,401.7 147.5,400.7 148.7,400.4" fill="#2a2626"/>
<polygon points="106.4,461.5 105.6,459.4 107.8,459.4" fill="#a9a5a2"/>
<polygon points="154.5,409.9 153.6,411.0 153.3,409.5" fill="#8e8a88"/>
<polygon points="143.3,449.6 140.7,448.4 142.8,447.0" fill="#8e8a88"/>
<polygon points="161.7,439.7 163.4,441.6 160.8,442.0" fill="#8e8a88"/>
<polygon points="94.3,415.2 95.9,417.4 93.4,417.6" fill="#8e8a88"/>
<polygon points="171.7,438.2 172.9,438.8 171.6,439.4" fill="#3a3636"/>
<polygon points="118.8,425.6 117.1,423.2 119.5,422.6" fill="#d4d0cc"/>
<polygon points="137.8,404.6 137.3,406.7 135.6,404.9" fill="#e2dedb"/>
<polygon points="136.4,484.3 135.3,483.2 136.5,482.4" fill="#767270"/>
<polygon points="113.3,460.1 111.3,460.5 111.9,458.7" fill="#8e8a88"/>
<polygon points="175.1,416.4 172.9,417.5 173.4,415.0" fill="#bdb9b5"/>
<polygon points="153.5,398.1 153.6,400.0 152.3,399.2" fill="#3a3636"/>
<polygon points="161.9,408.2 158.8,408.8 159.7,406.4" fill="#767270"/>
<polygon points="164.9,467.2 167.5,468.7 164.8,470.2" fill="#767270"/>
<polygon points="154.3,460.7 151.4,461.4 151.8,458.8" fill="#3a3636"/>
<polygon points="179.4,445.8 178.8,447.5 177.6,446.3" fill="#a9a5a2"/>
<polygon points="115.6,411.1 116.3,412.2 114.8,412.4" fill="#bdb9b5"/>
<polygon points="143.7,465.6 143.6,464.3 145.0,464.8" fill="#a9a5a2"/>
<polygon points="94.8,437.9 93.3,440.4 92.5,437.4" fill="#8e8a88"/>
<polygon points="172.5,426.1 171.5,423.7 174.2,424.0" fill="#a9a5a2"/>
<polygon points="96.2,465.2 94.2,466.1 94.4,464.3" fill="#3a3636"/>
<polygon points="110.0,437.6 110.6,434.7 112.2,436.7" fill="#8e8a88"/>
<polygon points="128.3,477.9 127.2,477.1 128.6,476.4" fill="#3a3636"/>
<polygon points="161.4,436.1 159.2,435.5 160.7,434.3" fill="#a9a5a2"/>
<polygon points="106.9,398.6 108.3,400.3 106.5,401.2" fill="#3a3636"/>
<polygon points="98.2,464.3 97.6,462.7 99.4,463.1" fill="#e2dedb"/>
<polygon points="137.5,435.7 137.4,437.3 136.0,436.5" fill="#a9a5a2"/>
<polygon points="151.0,474.4 149.5,476.3 148.9,473.7" fill="#d4d0cc"/>
<polygon points="95.3,449.7 94.5,447.9 96.0,448.0" fill="#bdb9b5"/>
<polygon points="174.6,420.5 174.4,423.3 172.5,421.2" fill="#8e8a88"/>
<polygon points="114.8,447.3 115.1,449.2 113.4,448.5" fill="#a9a5a2"/>
<polygon points="179.9,430.3 178.5,429.1 180.5,428.7" fill="#e2dedb"/>
<polygon points="161.3,433.3 162.6,434.2 161.1,434.7" fill="#767270"/>
<polygon points="117.6,439.7 115.7,440.8 115.6,439.0" fill="#d4d0cc"/>
<polygon points="172.7,464.9 174.8,466.0 172.3,467.1" fill="#767270"/>
<polygon points="147.8,461.3 146.3,461.1 147.2,459.6" fill="#767270"/>
<polygon points="155.7,479.3 154.1,479.3 154.8,477.2" fill="#d4d0cc"/>
<polygon points="177.8,420.6 178.8,421.9 177.3,422.0" fill="#8e8a88"/>
<polygon points="164.2,424.6 166.5,425.5 164.5,427.1" fill="#767270"/>
<polygon points="127.6,445.5 125.5,446.2 125.8,444.4" fill="#2a2626"/>
<polygon points="149.3,418.1 150.7,419.1 149.5,420.3" fill="#d4d0cc"/>
<polygon points="166.5,438.3 164.9,439.8 164.7,437.6" fill="#a9a5a2"/>
<polygon points="164.5,468.0 164.6,465.1 166.8,466.8" fill="#767270"/>
<polygon points="176.3,415.6 177.4,416.6 176.0,416.8" fill="#767270"/>
<polygon points="163.7,407.6 164.9,405.3 166.4,407.8" fill="#8e8a88"/>
<polygon points="123.1,441.4 123.3,440.0 124.4,440.8" fill="#3a3636"/>
<polygon points="115.5,442.2 115.6,440.9 116.6,441.7" fill="#3a3636"/>
<polygon points="122.1,401.5 121.3,399.3 123.8,400.0" fill="#a9a5a2"/>
<polygon points="132.5,417.0 133.8,419.3 131.3,419.3" fill="#e2dedb"/>
<polygon points="88.9,454.5 91.7,454.8 89.9,457.2" fill="#8e8a88"/>
<polygon points="114.0,441.0 112.8,442.3 112.4,440.5" fill="#a9a5a2"/>
<polygon points="152.1,433.3 151.9,435.1 150.4,434.0" fill="#3a3636"/>
<polygon points="115.6,413.8 117.1,411.0 118.8,413.4" fill="#8e8a88"/>
<polygon points="91.4,417.4 92.5,418.5 91.2,418.9" fill="#8e8a88"/>
<polygon points="155.2,402.4 154.2,404.4 153.2,402.8" fill="#a9a5a2"/>
<polygon points="119.4,455.9 119.9,457.6 118.3,457.2" fill="#3a3636"/>
<polygon points="107.2,423.4 109.6,425.2 106.9,426.2" fill="#2a2626"/>
<polygon points="157.9,414.5 157.1,416.0 156.1,414.4" fill="#bdb9b5"/>
<polygon points="166.3,422.1 169.0,422.9 167.3,424.8" fill="#8e8a88"/>
<polygon points="102.8,403.2 103.9,402.7 103.7,404.0" fill="#bdb9b5"/>
<polygon points="174.5,433.7 176.5,432.5 176.4,434.8" fill="#d4d0cc"/>
<polygon points="145.1,468.4 146.2,468.0 146.1,469.3" fill="#bdb9b5"/>
<polygon points="159.9,477.2 159.9,474.9 161.8,476.2" fill="#d4d0cc"/>
<polygon points="100.1,440.0 97.5,440.5 98.3,437.3" fill="#2a2626"/>
<polygon points="98.3,453.6 99.2,455.6 96.4,455.2" fill="#8e8a88"/>
<polygon points="143.9,481.2 142.7,481.2 143.3,479.9" fill="#bdb9b5"/>
<polygon points="140.4,474.3 140.5,475.7 139.5,475.2" fill="#8e8a88"/>
<polygon points="126.3,407.3 124.3,405.6 127.0,405.3" fill="#3a3636"/>
<polygon points="158.9,466.6 157.5,467.9 157.3,466.2" fill="#2a2626"/>
<polygon points="159.3,415.1 161.2,416.3 159.3,417.2" fill="#e2dedb"/>
<polygon points="145.6,444.3 145.6,442.4 147.3,443.2" fill="#8e8a88"/>
<polygon points="127.4,461.9 129.6,462.5 127.7,464.0" fill="#d4d0cc"/>
<polygon points="168.6,458.4 168.6,460.0 167.2,459.3" fill="#3a3636"/>
<polygon points="163.8,408.8 164.4,407.8 165.0,409.0" fill="#2a2626"/>
<polygon points="96.1,453.3 96.0,455.2 94.5,454.0" fill="#3a3636"/>
<polygon points="114.7,397.0 114.4,395.0 116.3,395.6" fill="#e2dedb"/>
<polygon points="109.5,462.9 111.6,462.5 111.0,464.4" fill="#8e8a88"/>
<polygon points="122.1,450.1 120.1,448.2 123.0,447.8" fill="#8e8a88"/>
<polygon points="94.3,447.5 93.7,449.2 92.7,447.6" fill="#2a2626"/>
<polygon points="173.6,444.5 171.6,446.4 170.3,444.1" fill="#767270"/>
<polygon points="107.2,404.3 109.5,403.9 108.9,405.9" fill="#bdb9b5"/>
<polygon points="123.9,478.4 125.1,476.0 126.5,478.2" fill="#a9a5a2"/>
<polygon points="138.8,426.9 140.8,426.6 140.1,428.6" fill="#767270"/>
<polygon points="134.4,390.5 134.1,392.5 132.3,391.3" fill="#e2dedb"/>
<polygon points="136.0,421.3 136.4,423.0 134.9,422.7" fill="#3a3636"/>
<polygon points="142.5,457.2 141.5,458.7 140.4,457.3" fill="#3a3636"/>
<polygon points="162.1,478.7 159.7,480.7 159.3,477.9" fill="#e2dedb"/>
<polygon points="159.4,428.8 157.5,426.8 160.2,426.5" fill="#a9a5a2"/>
<polygon points="136.0,457.9 138.2,459.0 135.7,460.5" fill="#8e8a88"/>
<polygon points="120.8,407.7 120.7,410.0 119.1,408.6" fill="#767270"/>
<polygon points="124.5,433.8 123.6,436.1 122.3,434.3" fill="#bdb9b5"/>
<polygon points="163.0,400.2 160.5,399.9 162.3,398.4" fill="#3a3636"/>
<polygon points="156.4,414.8 158.1,413.2 158.6,415.2" fill="#bdb9b5"/>
<polygon points="141.5,465.9 140.9,463.1 143.9,464.0" fill="#2a2626"/>
<polygon points="110.1,453.3 110.5,455.0 108.7,454.2" fill="#a9a5a2"/>
<polygon points="170.4,440.1 167.9,441.0 168.5,438.2" fill="#bdb9b5"/>
<polygon points="108.0,402.2 109.4,402.6 108.5,403.7" fill="#bdb9b5"/>
<polygon points="159.8,475.8 158.9,474.3 160.6,474.0" fill="#a9a5a2"/>
<polygon points="105.8,448.1 104.9,446.5 106.5,446.4" fill="#bdb9b5"/>
<polygon points="124.7,394.1 126.8,395.6 124.1,396.6" fill="#8e8a88"/>
<polygon points="95.4,442.5 94.1,442.1 94.9,441.2" fill="#3a3636"/>
<polygon points="101.6,424.8 99.4,422.6 102.9,422.3" fill="#3a3636"/>
<polygon points="160.4,429.8 162.1,429.5 161.5,431.3" fill="#d4d0cc"/>
<polygon points="110.8,426.0 109.9,424.6 111.9,424.6" fill="#a9a5a2"/>
<polygon points="103.1,413.2 102.9,415.3 101.2,414.3" fill="#3a3636"/>
<polygon points="104.3,419.0 105.2,421.3 103.1,421.1" fill="#d4d0cc"/>
<polygon points="179.3,439.1 181.5,438.3 181.1,440.8" fill="#a9a5a2"/>
<polygon points="129.6,479.2 131.4,480.9 129.1,481.8" fill="#3a3636"/>
<polygon points="181.0,443.4 179.2,443.8 179.7,441.8" fill="#3a3636"/>
<polygon points="148.9,427.1 148.3,428.3 147.3,427.2" fill="#3a3636"/>
<polygon points="159.7,439.5 162.0,440.5 160.0,441.8" fill="#2a2626"/>
<polygon points="96.2,453.9 94.5,452.1 96.5,451.0" fill="#d4d0cc"/>
<polygon points="131.0,431.7 131.8,429.9 133.0,432.0" fill="#e2dedb"/>
<polygon points="155.6,460.9 154.9,462.2 154.3,460.5" fill="#d4d0cc"/>
<polygon points="121.3,410.6 124.4,410.4 123.6,412.4" fill="#bdb9b5"/>
<polygon points="97.9,425.0 100.4,424.8 99.3,427.4" fill="#3a3636"/>
<polygon points="103.2,444.7 106.2,443.9 105.7,446.8" fill="#bdb9b5"/>
<polygon points="114.3,410.7 115.3,409.1 116.5,411.0" fill="#2a2626"/>
<polygon points="152.9,450.8 151.8,449.2 154.2,449.1" fill="#d4d0cc"/>
<polygon points="156.3,462.1 154.6,460.0 156.9,459.6" fill="#d4d0cc"/>
<polygon points="180.2,439.4 182.1,438.4 181.8,440.4" fill="#3a3636"/>
<polygon points="115.6,439.4 117.3,438.1 117.7,440.1" fill="#a9a5a2"/>
<polygon points="111.2,460.8 111.6,457.5 113.4,459.8" fill="#3a3636"/>
<polygon points="144.7,395.2 144.4,397.8 141.5,396.3" fill="#8e8a88"/>
<polygon points="131.1,430.4 129.2,429.4 131.1,428.3" fill="#2a2626"/>
<polygon points="162.7,421.5 162.6,423.7 160.8,422.3" fill="#2a2626"/>
<polygon points="129.8,438.3 129.4,436.0 131.5,437.0" fill="#8e8a88"/>
<polygon points="149.7,413.8 148.1,411.7 150.5,411.5" fill="#8e8a88"/>
<polygon points="137.9,446.9 136.4,448.9 135.6,447.0" fill="#3a3636"/>
<polygon points="165.3,419.8 166.8,419.0 166.7,421.0" fill="#d4d0cc"/>
<polygon points="128.5,458.9 130.6,459.7 128.7,460.6" fill="#bdb9b5"/>
<polygon points="154.5,449.8 156.7,448.1 156.6,451.4" fill="#3a3636"/>
<polygon points="132.3,478.0 130.3,476.8 132.5,476.1" fill="#2a2626"/>
<polygon points="95.0,451.5 93.2,452.6 93.1,450.9" fill="#3a3636"/>
<polygon points="112.6,440.3 111.9,441.8 110.4,440.6" fill="#a9a5a2"/>
<polygon points="149.9,439.4 150.6,436.4 152.5,438.4" fill="#bdb9b5"/>
<polygon points="166.6,428.7 167.8,427.1 168.3,429.1" fill="#bdb9b5"/>
<polygon points="177.5,446.5 179.7,445.4 179.3,448.0" fill="#8e8a88"/>
<polygon points="104.7,432.3 105.8,435.0 103.1,435.1" fill="#a9a5a2"/>
<polygon points="168.2,404.4 166.5,406.3 165.7,403.0" fill="#767270"/>
<polygon points="120.7,400.1 120.6,402.1 119.5,401.0" fill="#a9a5a2"/>
<polygon points="144.2,402.4 142.7,400.7 144.7,399.8" fill="#3a3636"/>
<polygon points="142.5,439.7 140.5,437.8 143.2,436.7" fill="#2a2626"/>
<polygon points="144.1,391.0 143.5,392.8 141.7,391.5" fill="#8e8a88"/>
<polygon points="115.7,476.4 114.1,474.4 116.6,473.7" fill="#d4d0cc"/>
<polygon points="166.3,426.0 164.8,425.7 165.9,424.8" fill="#767270"/>
<polygon points="127.7,430.8 128.6,432.0 127.3,432.5" fill="#767270"/>
<polygon points="172.0,423.6 174.2,424.9 172.3,426.2" fill="#8e8a88"/>
<polygon points="167.6,428.2 166.2,428.0 167.0,426.3" fill="#8e8a88"/>
<polygon points="178.3,442.2 176.4,442.9 176.7,441.1" fill="#3a3636"/>
<polygon points="173.9,420.1 171.9,419.5 173.7,418.4" fill="#767270"/>
<polygon points="103.0,431.7 103.7,433.2 101.9,433.0" fill="#2a2626"/>
<polygon points="165.0,403.0 165.3,404.5 163.7,404.2" fill="#e2dedb"/>
<polygon points="97.5,437.9 95.3,435.6 98.4,434.9" fill="#767270"/>
<polygon points="163.5,421.9 163.4,419.9 164.8,420.8" fill="#2a2626"/>
<polygon points="125.2,400.4 123.8,398.9 125.6,398.3" fill="#3a3636"/>
<polygon points="99.0,438.1 96.1,436.5 98.9,434.7" fill="#3a3636"/>
<polygon points="104.9,437.7 103.4,437.2 104.4,436.3" fill="#bdb9b5"/>
<polygon points="168.5,416.4 167.5,413.5 170.2,414.6" fill="#8e8a88"/>
<polygon points="147.6,394.1 149.6,394.9 147.7,395.7" fill="#3a3636"/>
<polygon points="140.5,456.3 138.3,454.0 141.5,453.9" fill="#767270"/>
<polygon points="133.1,441.0 133.2,438.9 134.9,439.9" fill="#2a2626"/>
<polygon points="121.8,479.9 123.0,477.3 124.6,479.4" fill="#8e8a88"/>
<polygon points="149.6,471.0 148.3,470.1 149.9,469.6" fill="#bdb9b5"/>
<polygon points="116.3,454.5 118.2,454.2 117.7,456.4" fill="#8e8a88"/>
<polygon points="142.8,406.0 142.0,407.4 141.5,406.1" fill="#767270"/>
<polygon points="137.1,441.6 136.1,439.2 138.9,439.7" fill="#2a2626"/>
<polygon points="102.9,457.9 101.3,456.5 103.2,455.6" fill="#2a2626"/>
<polygon points="131.6,447.9 129.0,448.5 130.1,445.9" fill="#767270"/>
<polygon points="119.9,436.9 117.6,435.8 119.4,433.9" fill="#bdb9b5"/>
<polygon points="104.6,451.0 106.5,452.0 104.4,452.9" fill="#d4d0cc"/>
<polygon points="108.1,463.2 109.2,460.7 111.4,462.6" fill="#2a2626"/>
<polygon points="114.1,471.7 114.6,473.3 113.1,473.1" fill="#bdb9b5"/>
<polygon points="138.2,405.7 139.6,406.7 138.4,408.2" fill="#3a3636"/>
<polygon points="112.8,471.5 114.2,473.8 111.4,473.6" fill="#8e8a88"/>
<polygon points="155.9,449.8 155.1,450.6 154.9,449.4" fill="#3a3636"/>
<polygon points="104.9,412.9 104.5,411.3 106.3,411.9" fill="#767270"/>
<polygon points="126.1,406.4 127.8,407.3 126.4,408.7" fill="#8e8a88"/>
<polygon points="118.4,424.3 118.6,426.3 116.5,425.4" fill="#8e8a88"/>
<polygon points="177.8,433.0 180.3,432.2 179.6,435.0" fill="#a9a5a2"/>
<polygon points="158.6,423.1 158.6,426.2 155.6,425.2" fill="#3a3636"/>
<polygon points="123.7,418.6 124.7,420.6 122.2,420.3" fill="#a9a5a2"/>
<polygon points="168.3,422.8 168.4,424.4 166.5,423.6" fill="#bdb9b5"/>
<polygon points="135.7,428.2 134.0,427.7 135.1,426.3" fill="#d4d0cc"/>
<polygon points="138.8,435.4 139.2,437.2 137.2,436.6" fill="#a9a5a2"/>
<polygon points="146.6,417.5 148.9,417.8 147.7,419.7" fill="#3a3636"/>
<polygon points="130.5,451.6 133.0,452.7 130.7,454.1" fill="#d4d0cc"/>
<polygon points="168.2,420.0 170.9,421.0 168.9,422.4" fill="#d4d0cc"/>
<polygon points="125.6,394.7 126.7,393.3 127.7,395.1" fill="#bdb9b5"/>
<polygon points="129.9,447.0 130.9,448.7 128.5,448.5" fill="#767270"/>
<polygon points="116.2,468.9 115.0,470.5 114.5,468.6" fill="#a9a5a2"/>
<polygon points="103.8,412.0 103.4,410.7 104.7,411.0" fill="#a9a5a2"/>
<polygon points="159.6,457.6 157.9,457.1 159.3,456.4" fill="#3a3636"/>
<polygon points="123.4,435.1 123.7,433.8 124.7,434.7" fill="#3a3636"/>
<polygon points="150.0,396.8 152.2,396.0 152.0,397.7" fill="#a9a5a2"/>
<polygon points="176.7,418.1 177.5,417.0 177.8,418.2" fill="#bdb9b5"/>
<polygon points="169.2,435.6 167.4,436.4 167.3,434.4" fill="#e2dedb"/>
<polygon points="157.4,438.5 158.7,438.9 157.5,439.4" fill="#2a2626"/>
<polygon points="126.4,394.7 127.5,393.4 127.7,395.5" fill="#e2dedb"/>
<polygon points="143.4,400.1 144.1,401.7 142.2,401.5" fill="#3a3636"/>
<polygon points="175.6,417.9 174.4,416.7 175.9,416.1" fill="#3a3636"/>
<polygon points="89.6,424.3 91.6,426.0 88.8,427.2" fill="#d4d0cc"/>
<polygon points="170.7,465.0 172.0,465.8 170.8,466.8" fill="#a9a5a2"/>
<polygon points="123.4,483.0 120.4,484.0 121.1,481.3" fill="#a9a5a2"/>
<polygon points="143.3,435.0 141.6,435.4 142.1,433.0" fill="#3a3636"/>
<polygon points="100.5,436.3 98.0,435.4 99.8,433.2" fill="#767270"/>
<polygon points="134.1,439.6 137.1,439.2 136.0,441.2" fill="#bdb9b5"/>
<polygon points="155.1,446.0 152.7,447.4 153.1,444.1" fill="#2a2626"/>
<polygon points="151.6,425.3 150.8,423.0 153.3,423.6" fill="#bdb9b5"/>
<polygon points="115.6,459.4 113.7,459.0 115.5,457.6" fill="#d4d0cc"/>
<polygon points="98.6,424.5 97.9,426.5 96.6,424.9" fill="#2a2626"/>
<polygon points="110.3,441.4 110.9,440.3 111.6,441.2" fill="#a9a5a2"/>
<polygon points="133.0,484.4 135.5,483.9 135.1,486.1" fill="#8e8a88"/>
<polygon points="172.9,441.8 171.6,443.1 170.7,441.5" fill="#d4d0cc"/>
<polygon points="168.6,409.5 166.8,412.4 165.8,409.5" fill="#8e8a88"/>
<polygon points="102.0,443.2 101.1,441.9 102.7,442.0" fill="#8e8a88"/>
<polygon points="123.2,458.4 124.1,455.8 125.6,458.1" fill="#d4d0cc"/>
<polygon points="168.2,412.7 166.8,413.4 166.9,412.1" fill="#8e8a88"/>
<polygon points="148.9,419.3 151.8,417.2 152.3,420.5" fill="#a9a5a2"/>
<polygon points="120.2,478.5 121.9,477.8 121.9,479.2" fill="#a9a5a2"/>
<polygon points="105.3,443.5 105.0,442.3 106.2,442.7" fill="#767270"/>
<polygon points="141.9,441.7 142.8,442.5 141.8,442.9" fill="#3a3636"/>
<polygon points="115.6,478.7 117.7,480.3 115.6,481.1" fill="#3a3636"/>
<polygon points="149.5,456.6 148.1,457.2 148.4,455.7" fill="#e2dedb"/>
<polygon points="88.3,421.6 89.7,420.3 90.2,422.0" fill="#d4d0cc"/>
<polygon points="99.7,404.1 102.0,403.5 101.3,406.8" fill="#a9a5a2"/>
<polygon points="113.3,416.5 114.7,415.3 115.6,417.1" fill="#767270"/>
<polygon points="104.2,414.1 104.5,415.8 103.0,414.9" fill="#8e8a88"/>
<polygon points="161.8,472.2 160.3,471.2 161.7,470.5" fill="#3a3636"/>
<polygon points="110.0,442.9 110.0,440.4 112.6,441.9" fill="#767270"/>
<polygon points="165.0,459.2 166.0,457.3 167.0,459.1" fill="#bdb9b5"/>
<polygon points="129.6,402.0 126.1,402.6 127.8,400.0" fill="#767270"/>
<polygon points="153.8,423.8 155.1,423.5 154.8,424.7" fill="#3a3636"/>
<polygon points="112.1,477.9 110.4,477.7 111.8,476.5" fill="#e2dedb"/>
<polygon points="141.2,424.7 144.3,425.9 141.5,428.1" fill="#a9a5a2"/>
<polygon points="152.3,479.3 150.0,478.5 151.9,476.7" fill="#e2dedb"/>
<polygon points="116.5,482.1 118.0,482.7 116.6,483.8" fill="#2a2626"/>
<polygon points="132.8,423.9 130.7,423.7 132.0,421.6" fill="#8e8a88"/>
<polygon points="86.5,433.5 87.0,431.8 88.4,433.1" fill="#3a3636"/>
<polygon points="163.5,464.3 163.8,466.0 161.8,465.3" fill="#2a2626"/>
<polygon points="165.6,412.9 164.1,412.6 165.1,411.6" fill="#d4d0cc"/>
<polygon points="161.1,442.2 159.9,443.7 159.3,442.1" fill="#d4d0cc"/>
<polygon points="130.1,465.7 129.6,464.6 131.0,464.9" fill="#767270"/>
<polygon points="106.4,404.4 109.1,404.7 107.4,407.3" fill="#3a3636"/>
<polygon points="109.9,456.8 108.2,455.1 110.4,454.3" fill="#8e8a88"/>
<polygon points="107.4,438.5 105.2,440.3 104.7,437.8" fill="#3a3636"/>
<polygon points="160.5,422.0 157.9,421.4 160.1,419.1" fill="#d4d0cc"/>
<polygon points="99.1,451.6 97.0,450.1 99.2,449.3" fill="#a9a5a2"/>
<polygon points="130.1,442.8 131.7,444.2 129.4,445.0" fill="#2a2626"/>
<polygon points="156.9,407.4 154.8,406.6 156.8,405.7" fill="#767270"/>
<polygon points="158.5,460.0 157.2,460.1 157.7,458.9" fill="#bdb9b5"/>
<polygon points="157.6,470.9 157.1,472.9 155.7,471.4" fill="#3a3636"/>
<polygon points="161.8,455.6 161.1,457.3 159.8,456.0" fill="#bdb9b5"/>
<polygon points="170.3,407.7 167.6,405.5 170.9,404.6" fill="#3a3636"/>
<polygon points="143.1,403.7 142.9,404.9 141.8,404.0" fill="#767270"/>
<polygon points="152.0,465.2 149.7,464.2 151.9,462.8" fill="#d4d0cc"/>
<polygon points="135.6,460.4 136.3,462.3 134.4,461.8" fill="#8e8a88"/>
<polygon points="147.0,473.4 146.2,472.3 148.1,472.4" fill="#3a3636"/>
<polygon points="134.0,459.8 133.3,461.5 132.3,460.2" fill="#8e8a88"/>
<polygon points="170.1,413.7 171.3,414.4 170.2,414.9" fill="#e2dedb"/>
<polygon points="169.2,464.9 168.8,462.9 171.0,463.5" fill="#767270"/>
<polygon points="135.1,394.0 135.6,396.0 133.8,395.8" fill="#3a3636"/>
<polygon points="123.8,429.3 125.5,428.2 125.7,430.2" fill="#3a3636"/>
<polygon points="153.1,445.9 154.2,447.6 152.2,447.5" fill="#bdb9b5"/>
<polygon points="118.7,406.9 120.0,407.0 119.4,408.5" fill="#a9a5a2"/>
<polygon points="129.4,423.8 127.2,423.5 128.6,421.3" fill="#a9a5a2"/>
<polygon points="144.6,453.2 142.0,454.6 142.3,451.1" fill="#d4d0cc"/>
<polygon points="151.7,407.3 149.7,408.6 149.5,406.6" fill="#a9a5a2"/>
<polygon points="154.9,480.4 155.2,482.7 153.2,481.5" fill="#bdb9b5"/>
<polygon points="126.5,443.2 128.8,442.3 128.1,445.2" fill="#a9a5a2"/>
<polygon points="117.2,434.9 116.6,432.3 119.3,433.0" fill="#3a3636"/>
<polygon points="99.0,419.4 100.8,420.4 98.8,421.2" fill="#a9a5a2"/>
<polygon points="158.0,470.9 157.1,468.4 159.7,468.4" fill="#8e8a88"/>
<polygon points="137.9,451.6 137.4,452.8 136.6,451.7" fill="#2a2626"/>
</g></g>
<circle cx="134" cy="438" r="47.4" fill="none" stroke="#1a4f98" stroke-width="2.6"/>

<!-- container -->
<path d="M205 503 L205 177 A14 14 0 0 1 219 163 L914.5 163 A14 14 0 0 1 928.5 177 L928.5 653 A14 14 0 0 1 914.5 667 L219 667 A14 14 0 0 1 205 653 L205 536" fill="none" stroke="#231f20" stroke-width="2"/>
<path d="M168 503 L205 503 M168 536 L205 536" stroke="#231f20" stroke-width="2" fill="none"/>
<path d="M644 163 L644 228 M644 242 L644 667" stroke="#231f20" stroke-width="2" fill="none"/>

<!-- hopper -->
<path d="M239.5 122 L309.8 122 L309.8 139 L302.7 148 L246.4 148 L239.5 139 Z" fill="#eeefef" stroke="#3a3a3a" stroke-width="1.3"/>
<rect x="246.4" y="148" width="56.3" height="41.4" fill="#eeefef" stroke="#3a3a3a" stroke-width="1.3"/>
<g fill="none" stroke="#333" stroke-width="1.1">
<circle cx="262.5" cy="157" r="4.2"/><circle cx="286.5" cy="157" r="4.2"/>
<circle cx="262.5" cy="173.8" r="9.8"/><circle cx="286.5" cy="173.8" r="9.8"/>
<circle cx="262.5" cy="173.8" r="4.2"/><circle cx="286.5" cy="173.8" r="4.2"/>
</g>

<!-- feed text and arrow -->
<text x="274.3" y="76.5" font-size="16" font-weight="bold" text-anchor="middle" fill="#222">湿泥进</text>
<path d="M274.3 85 L274.3 113.5 M269.8 107.5 L274.3 113.5 L278.8 107.5" fill="none" stroke="#333" stroke-width="1"/>

<!-- brown bars -->
<g fill="#b89c73">
<rect x="263.2" y="198" width="11.8" height="37"/>
<rect x="280" y="198" width="6" height="57.6"/>
<rect x="579.2" y="312" width="12.8" height="30"/>
<rect x="579.2" y="456" width="12.8" height="30"/>
<rect x="271.3" y="387.2" width="11.5" height="29.3"/>
<rect x="208" y="514" width="42" height="11.8"/>
<rect x="324" y="283.2" width="29" height="12.8"/>
<rect x="410.2" y="283.2" width="29" height="12.8"/>
<rect x="498.2" y="283.2" width="29" height="12.8"/>
<rect x="324" y="351.1" width="29" height="12.7"/>
<rect x="410.2" y="351.1" width="29" height="12.7"/>
<rect x="498.2" y="351.1" width="29" height="12.7"/>
<rect x="324" y="422.8" width="29" height="12.0"/>
<rect x="410.2" y="422.8" width="29" height="12.0"/>
<rect x="498.2" y="422.8" width="29" height="12.0"/>
<rect x="324" y="492.4" width="29" height="12.5"/>
<rect x="410.2" y="492.4" width="29" height="12.5"/>
<rect x="498.2" y="492.4" width="29" height="12.5"/>
</g>

<line x1="269.6" y1="298.6" x2="558.8" y2="298.6" stroke="#1a1311" stroke-width="3"/>
<line x1="269.6" y1="327.0" x2="558.8" y2="327.0" stroke="#1a1311" stroke-width="3"/>
<circle cx="269.6" cy="312.8" r="14.4" fill="#fff" stroke="#1a1311" stroke-width="2.7"/>
<circle cx="269.6" cy="312.8" r="6.7" fill="#1a0d0d"/>
<circle cx="558.8" cy="312.8" r="14.4" fill="#fff" stroke="#1a1311" stroke-width="2.7"/>
<circle cx="558.8" cy="312.8" r="6.7" fill="#1a0d0d"/>
<line x1="301.3" y1="368.5" x2="590.8" y2="368.5" stroke="#1a1311" stroke-width="3"/>
<line x1="301.3" y1="396.9" x2="590.8" y2="396.9" stroke="#1a1311" stroke-width="3"/>
<circle cx="301.3" cy="382.7" r="14.4" fill="#fff" stroke="#1a1311" stroke-width="2.7"/>
<circle cx="301.3" cy="382.7" r="6.7" fill="#1a0d0d"/>
<circle cx="590.8" cy="382.7" r="14.4" fill="#fff" stroke="#1a1311" stroke-width="2.7"/>
<circle cx="590.8" cy="382.7" r="6.7" fill="#1a0d0d"/>
<line x1="269.5" y1="438.4" x2="558.8" y2="438.4" stroke="#1a1311" stroke-width="3"/>
<line x1="269.5" y1="466.8" x2="558.8" y2="466.8" stroke="#1a1311" stroke-width="3"/>
<circle cx="269.5" cy="452.6" r="14.4" fill="#fff" stroke="#1a1311" stroke-width="2.7"/>
<circle cx="269.5" cy="452.6" r="6.7" fill="#1a0d0d"/>
<circle cx="558.8" cy="452.6" r="14.4" fill="#fff" stroke="#1a1311" stroke-width="2.7"/>
<circle cx="558.8" cy="452.6" r="6.7" fill="#1a0d0d"/>
<line x1="301.3" y1="508.3" x2="590.8" y2="508.3" stroke="#1a1311" stroke-width="3"/>
<line x1="301.3" y1="536.7" x2="590.8" y2="536.7" stroke="#1a1311" stroke-width="3"/>
<circle cx="301.3" cy="522.5" r="14.4" fill="#fff" stroke="#1a1311" stroke-width="2.7"/>
<circle cx="301.3" cy="522.5" r="6.7" fill="#1a0d0d"/>
<circle cx="590.8" cy="522.5" r="14.4" fill="#fff" stroke="#1a1311" stroke-width="2.7"/>
<circle cx="590.8" cy="522.5" r="6.7" fill="#1a0d0d"/>
<use href="#flm" x="370.8" y="266"/>
<use href="#flm" x="463.5" y="266"/>
<use href="#flm" x="370.8" y="336.3"/>
<use href="#flm" x="463.5" y="336.3"/>
<use href="#flm" x="370.8" y="406"/>
<use href="#flm" x="463.5" y="406"/>
<use href="#flm" x="370.8" y="476"/>
<use href="#flm" x="463.5" y="476"/>
<use href="#flm" x="370.8" y="548"/>
<use href="#flm" x="463.5" y="548"/>
<path d="M424.4 351.1 L424.4 336.8 M421 340.8 L424.4 336.8 L427.8 340.8" fill="none" stroke="#222" stroke-width="1.1"/>
<path d="M424.4 422.8 L424.4 407 M421 411 L424.4 407 L427.8 411" fill="none" stroke="#222" stroke-width="1.1"/>
<path d="M424.4 492.4 L424.4 477 M421 481 L424.4 477 L427.8 481" fill="none" stroke="#222" stroke-width="1.1"/>

<!-- upper orange arrows -->
<path d="M416.3 273.4 L431.4 273.4 L431.4 238.6 L439.8 238.6 L423.85 224.4 L407.9 238.6 L416.3 238.6 Z" fill="#fff" fill-opacity="0.45" stroke="#ea9a3c" stroke-width="1.3"/>
<path d="M446.3 227.8 L677.6 227.8 L677.6 218.7 L691.3 234.7 L677.6 250.7 L677.6 242.2 L446.3 242.2 Z" fill="#fff" fill-opacity="0.6" stroke="#ea9a3c" stroke-width="1.3"/>
<path d="M702 226 L716.9 226 L716.9 273.5 L725.5 273.5 L709.5 287.2 L693.6 273.5 L702 273.5 Z" fill="#fff" fill-opacity="0.5" stroke="#ea9a3c" stroke-width="1.3"/>

<!-- flow labels -->
<text x="517" y="208.3" font-size="16" font-weight="500" text-anchor="middle" fill="#222">高湿烘干尾气</text>
<path d="M421 203.3 L450 203.3 M445 199 L450.5 203.3 L445 207.6" fill="none" stroke="#333" stroke-width="1"/>
<path d="M576 203.3 L605.5 203.3 M600.5 199 L606 203.3 L600.5 207.6" fill="none" stroke="#333" stroke-width="1"/>
<text x="516.7" y="631.4" font-size="16" font-weight="500" text-anchor="middle" fill="#222">再生烘干热气</text>
<path d="M421 625.4 L450 625.4 M426 621 L420.5 625.4 L426 629.8" fill="none" stroke="#333" stroke-width="1"/>
<path d="M576.3 625.4 L605 625.4 M581.5 621 L576 625.4 L581.5 629.8" fill="none" stroke="#333" stroke-width="1"/>

<!-- lower red arrows -->
<path d="M416.2 597 L431.5 597 L431.5 561.5 L439.9 561.5 L424 547.7 L408.2 561.5 L416.2 561.5 Z" fill="#fff" stroke="#dc4a38" stroke-width="1.3"/>
<path d="M610 582.8 L460.3 582.8 L460.3 574.3 L446.5 589.9 L460.3 605.4 L460.3 597.2 L610 597.2 Z" fill="#fff" stroke="#e06a40" stroke-width="1.4"/>

<!-- dry out -->
<text x="133.6" y="509.3" font-size="16" font-weight="bold" text-anchor="middle" fill="#222">干</text>
<text x="133.6" y="525.3" font-size="16" font-weight="bold" text-anchor="middle" fill="#222">泥</text>
<text x="133.6" y="541.3" font-size="16" font-weight="bold" text-anchor="middle" fill="#222">出</text>
<path d="M172 520.4 L200 520.4 M177 516 L171.8 520.4 L177 524.8" fill="none" stroke="#333" stroke-width="1"/>

<!-- fan -->
<path d="M623 619 L618.4 631.4 L670.3 631.4 L665.6 619" fill="#fff" stroke="#444" stroke-width="1.1"/>
<circle cx="644.3" cy="598.5" r="28.3" fill="#fff" stroke="#333" stroke-width="1.2"/>
<g transform="translate(644.3 598.5)">
<use href="#blade" transform="rotate(0)"/>
<use href="#blade" transform="rotate(60)"/>
<use href="#blade" transform="rotate(120)"/>
<use href="#blade" transform="rotate(180)"/>
<use href="#blade" transform="rotate(240)"/>
<use href="#blade" transform="rotate(300)"/>
<circle r="3.2" fill="#0b5cb0"/>
</g>

<!-- evaporator -->
<rect x="660" y="301" width="99" height="64.5" fill="#0b59ad"/>
<text x="708.7" y="339.3" font-size="16" font-weight="500" text-anchor="middle" fill="#fff">蒸发器</text>
<path d="M733.3 301 L733.3 253.3 L955 253.3" fill="none" stroke="#0b58aa" stroke-width="2.6"/>
<path d="M950 248.8 L955.5 253.3 L950 257.8" fill="none" stroke="#0b58aa" stroke-width="2.4"/>
<path d="M975.2 237 C 972 245, 964.8 251, 964.8 257 A 10.35 10.35 0 0 0 985.5 257 C 985.5 251, 978.4 245, 975.2 237 Z" fill="#0b5ab0"/>

<!-- condenser -->
<rect x="660" y="465.7" width="99" height="65" fill="#e50012"/>
<text x="709.5" y="504" font-size="16" font-weight="bold" text-anchor="middle" fill="#fff">冷凝器</text>

<!-- blue light arrow -->
<path d="M702.5 380.6 L717.3 380.6 L717.3 434.4 L725.3 434.4 L709.3 448.1 L693.3 434.4 L702.5 434.4 Z" fill="#fff" fill-opacity="0.25" stroke="#3aa4e0" stroke-width="1.4"/>
<!-- red down arrow -->
<path d="M702.6 547.8 L717 547.8 L717 583 L725.6 583 L709.8 596.7 L693.6 583 L702.6 583 Z" fill="#fff" stroke="#c62a36" stroke-width="1.3"/>

<!-- dashed lines -->
<g fill="none" stroke="#1d5ca6" stroke-width="2" stroke-dasharray="4.5 3.5">
<path d="M759 311 L897 311 L897 367"/>
<path d="M759 331.8 L795 331.8 L795 389.7"/>
</g>
<g fill="none" stroke="#c8102e" stroke-width="2" stroke-dasharray="4.5 3.5">
<path d="M795 439.4 L795 498.9 L759 498.9"/>
<path d="M759 518.8 L938 518.8"/>
<path d="M897 412 L897 518.8"/>
<path d="M897 429.4 L938 429.4"/>
</g>

<!-- valve -->
<path d="M776.2 389.7 L813.1 389.7 L776.2 439.4 L813.1 439.4 Z" fill="none" stroke="#333" stroke-width="1.2"/>
<!-- compressor -->
<circle cx="896.5" cy="389.5" r="22.3" fill="none" stroke="#333" stroke-width="1.2"/>
<path d="M889 369 L880 404 M904.5 369 L914 403" fill="none" stroke="#333" stroke-width="1.1"/>

<!-- vertical labels -->
<text x="1002.4" y="234.5" font-size="16" font-weight="500" text-anchor="middle" fill="#222">冷</text>
<text x="1002.4" y="250.1" font-size="16" font-weight="500" text-anchor="middle" fill="#222">凝</text>
<text x="1002.4" y="265.7" font-size="16" font-weight="500" text-anchor="middle" fill="#222">出</text>
<text x="1002.4" y="281.3" font-size="16" font-weight="500" text-anchor="middle" fill="#222">水</text>
<text x="1002.4" y="371.0" font-size="16" font-weight="500" text-anchor="middle" fill="#222">输</text>
<text x="1002.4" y="387.0" font-size="16" font-weight="500" text-anchor="middle" fill="#222">入</text>
<text x="1002.4" y="403.0" font-size="16" font-weight="500" text-anchor="middle" fill="#222">电</text>
<text x="1002.4" y="419.0" font-size="16" font-weight="500" text-anchor="middle" fill="#222">能</text>
<text x="1002.4" y="457.3" font-size="16" font-weight="500" text-anchor="middle" fill="#222">多</text>
<text x="1002.4" y="473.2" font-size="16" font-weight="500" text-anchor="middle" fill="#222">余</text>
<text x="1002.4" y="489.1" font-size="16" font-weight="500" text-anchor="middle" fill="#222">热</text>
<text x="1002.4" y="505.0" font-size="16" font-weight="500" text-anchor="middle" fill="#222">量</text>
<text x="861" y="379.0" font-size="16" font-weight="500" text-anchor="middle" fill="#222">压</text>
<text x="861" y="395.3" font-size="16" font-weight="500" text-anchor="middle" fill="#222">缩</text>
<text x="861" y="411.6" font-size="16" font-weight="500" text-anchor="middle" fill="#222">机</text>
<text x="760.2" y="405.4" font-size="16" font-weight="500" text-anchor="middle" fill="#222">膨</text>
<text x="760.2" y="421.3" font-size="16" font-weight="500" text-anchor="middle" fill="#222">胀</text>
<text x="760.2" y="437.2" font-size="16" font-weight="500" text-anchor="middle" fill="#222">阀</text>

<!-- power arrow -->
<path d="M987.2 382 L947.9 382 L947.9 378 L932.4 389.6 L947.9 402.3 L947.9 397.7 L987.2 397.7 Z" fill="url(#pwr)"/>
<!-- external condenser -->
<rect x="938.4" y="429.4" width="25.2" height="90" fill="#e0101c"/>
<text x="951" y="448.0" font-size="16" font-weight="bold" text-anchor="middle" fill="#fff">外</text>
<text x="951" y="463.9" font-size="16" font-weight="bold" text-anchor="middle" fill="#fff">置</text>
<text x="951" y="479.8" font-size="16" font-weight="bold" text-anchor="middle" fill="#fff">冷</text>
<text x="951" y="495.7" font-size="16" font-weight="bold" text-anchor="middle" fill="#fff">凝</text>
<text x="951" y="511.6" font-size="16" font-weight="bold" text-anchor="middle" fill="#fff">器</text>
<!-- heat arrow -->
<path d="M965.5 467.4 L973.6 467.4 L973.6 460.6 L987.2 474.2 L973.6 487.7 L973.6 482.3 L965.5 482.3 Z" fill="url(#heat)"/>

</svg>
</body></html>
